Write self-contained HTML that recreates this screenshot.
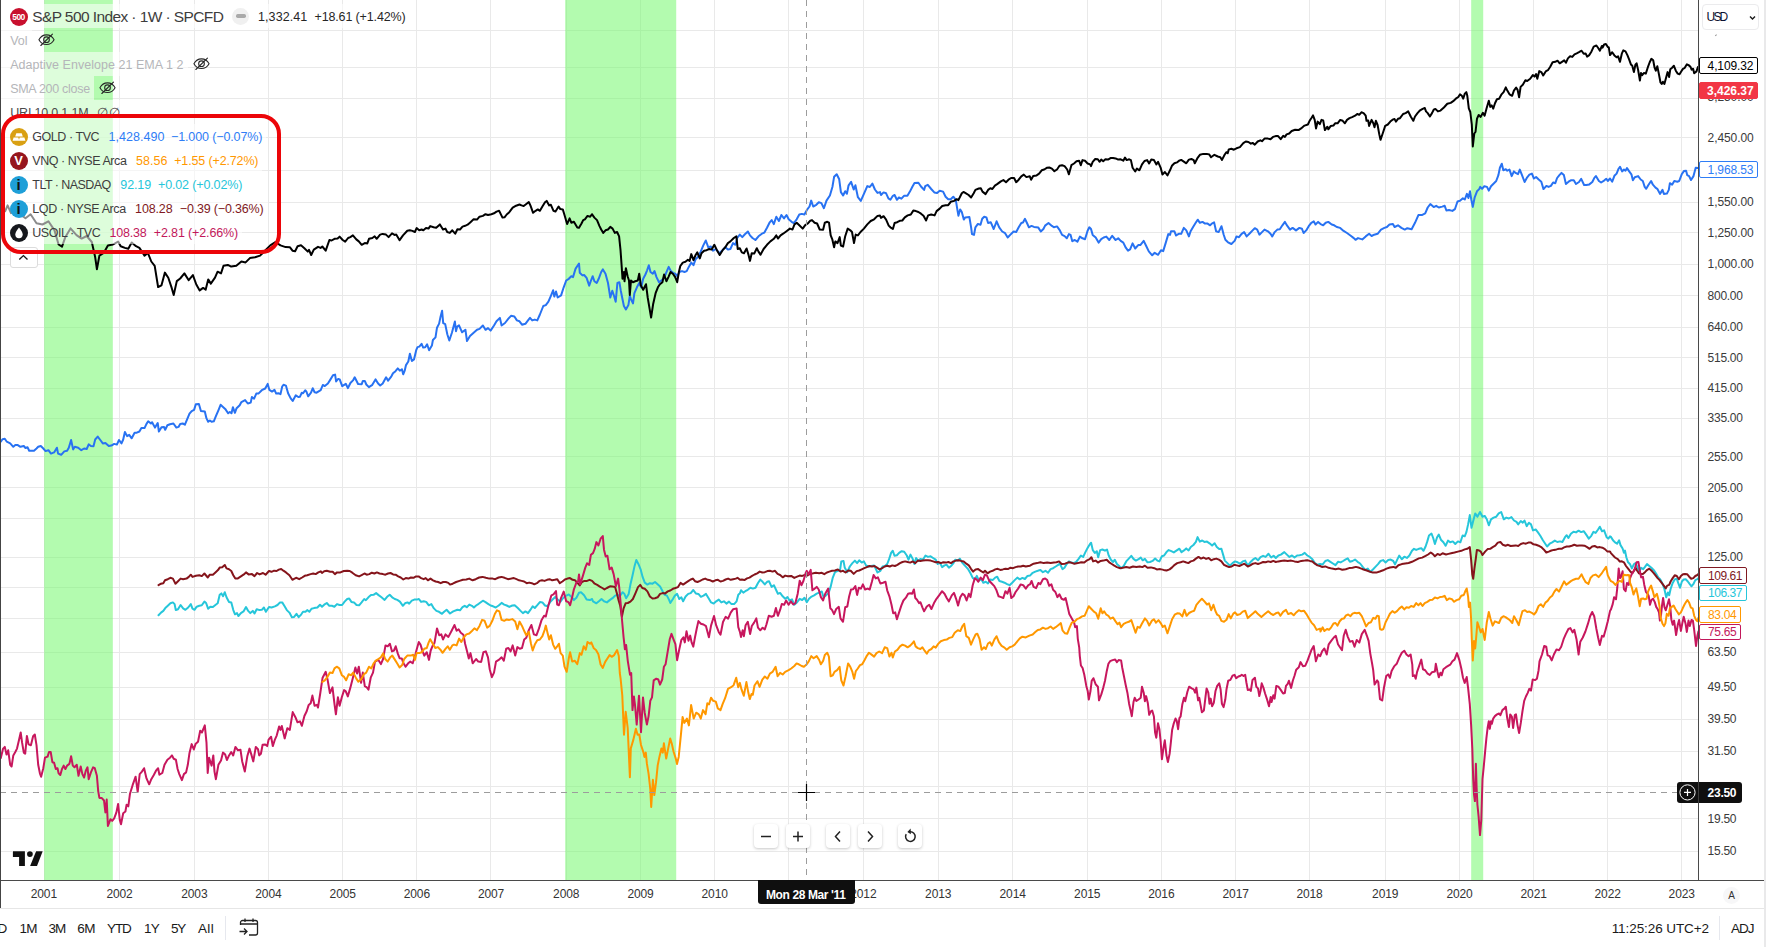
<!DOCTYPE html>
<html lang="en">
<head>
<meta charset="utf-8">
<title>S&amp;P 500 Index chart</title>
<style>
*{box-sizing:border-box;margin:0;padding:0}
html,body{width:1766px;height:947px;overflow:hidden;background:#fff}
body{position:relative;font-family:"Liberation Sans",Arial,sans-serif;color:#131722;font-size:13px}
.abs{position:absolute}
.t{position:absolute;white-space:pre;line-height:16px;height:16px}
.chart{position:absolute;left:0;top:0}
.lborder{position:absolute;left:0;top:0;width:1px;height:908px;background:#444}
.paxis{position:absolute;left:1698px;top:0;width:66px;height:908px;background:#fff;border-left:1px solid #4a4a4a}
.taxis{position:absolute;left:0;top:880px;width:1764px;height:28px;border-top:1px solid #4a4a4a;background:#fff}
.sep{position:absolute;left:0;top:908px;width:1764px;height:1px;background:#e6e6e6}
.redge{position:absolute;left:1764.200px;top:0;width:2px;height:947px;background:#e9e9ea}
.pl{position:absolute;left:1708px;height:16px;line-height:16px;font-size:12px;color:#3a3a3a;letter-spacing:-0.1px;white-space:nowrap}
.yl{position:absolute;top:886px;width:40px;text-align:center;font-size:12px;line-height:16px;color:#3a3a3a;white-space:nowrap}
.tag{position:absolute;left:1699px;height:16.500px;border:1px solid;border-radius:2px;background:#fff}
.row{position:absolute;left:0;height:24px;line-height:24px;white-space:nowrap;font-size:12.5px}
.row span{position:absolute;top:0}
.g{color:#b9bcc4}
.ico{position:absolute;width:18px;height:18px;border-radius:50%;left:9.5px}
.btn{position:absolute;top:824px;width:24px;height:24px;border-radius:4px;background:#fff;box-shadow:0 1px 3px rgba(0,0,0,.22)}
.btn svg{position:absolute;left:0;top:0}
.tb{position:absolute;top:919px;height:18px;line-height:18px;font-size:13.5px;color:#131722;white-space:nowrap}
</style>
</head>
<body>
<svg class="chart" width="1698" height="880" viewBox="0 0 1698 880">
<rect x="44" y="0" width="1" height="880" fill="#e9e9e9"/>
<rect x="119" y="0" width="1" height="880" fill="#e9e9e9"/>
<rect x="194" y="0" width="1" height="880" fill="#e9e9e9"/>
<rect x="268" y="0" width="1" height="880" fill="#e9e9e9"/>
<rect x="342" y="0" width="1" height="880" fill="#e9e9e9"/>
<rect x="416" y="0" width="1" height="880" fill="#e9e9e9"/>
<rect x="490" y="0" width="1" height="880" fill="#e9e9e9"/>
<rect x="566" y="0" width="1" height="880" fill="#e9e9e9"/>
<rect x="640" y="0" width="1" height="880" fill="#e9e9e9"/>
<rect x="714" y="0" width="1" height="880" fill="#e9e9e9"/>
<rect x="788" y="0" width="1" height="880" fill="#e9e9e9"/>
<rect x="863" y="0" width="1" height="880" fill="#e9e9e9"/>
<rect x="938" y="0" width="1" height="880" fill="#e9e9e9"/>
<rect x="1012" y="0" width="1" height="880" fill="#e9e9e9"/>
<rect x="1087" y="0" width="1" height="880" fill="#e9e9e9"/>
<rect x="1161" y="0" width="1" height="880" fill="#e9e9e9"/>
<rect x="1235" y="0" width="1" height="880" fill="#e9e9e9"/>
<rect x="1309" y="0" width="1" height="880" fill="#e9e9e9"/>
<rect x="1385" y="0" width="1" height="880" fill="#e9e9e9"/>
<rect x="1459" y="0" width="1" height="880" fill="#e9e9e9"/>
<rect x="1533" y="0" width="1" height="880" fill="#e9e9e9"/>
<rect x="1607" y="0" width="1" height="880" fill="#e9e9e9"/>
<rect x="1681" y="0" width="1" height="880" fill="#e9e9e9"/>
<rect x="0" y="30" width="1698" height="1" fill="#e9e9e9"/>
<rect x="0" y="67" width="1698" height="1" fill="#e9e9e9"/>
<rect x="0" y="98" width="1698" height="1" fill="#e9e9e9"/>
<rect x="0" y="137" width="1698" height="1" fill="#e9e9e9"/>
<rect x="0" y="170" width="1698" height="1" fill="#e9e9e9"/>
<rect x="0" y="202" width="1698" height="1" fill="#e9e9e9"/>
<rect x="0" y="232" width="1698" height="1" fill="#e9e9e9"/>
<rect x="0" y="264" width="1698" height="1" fill="#e9e9e9"/>
<rect x="0" y="295" width="1698" height="1" fill="#e9e9e9"/>
<rect x="0" y="327" width="1698" height="1" fill="#e9e9e9"/>
<rect x="0" y="357" width="1698" height="1" fill="#e9e9e9"/>
<rect x="0" y="388" width="1698" height="1" fill="#e9e9e9"/>
<rect x="0" y="418" width="1698" height="1" fill="#e9e9e9"/>
<rect x="0" y="456" width="1698" height="1" fill="#e9e9e9"/>
<rect x="0" y="487" width="1698" height="1" fill="#e9e9e9"/>
<rect x="0" y="518" width="1698" height="1" fill="#e9e9e9"/>
<rect x="0" y="557" width="1698" height="1" fill="#e9e9e9"/>
<rect x="0" y="587" width="1698" height="1" fill="#e9e9e9"/>
<rect x="0" y="618" width="1698" height="1" fill="#e9e9e9"/>
<rect x="0" y="652" width="1698" height="1" fill="#e9e9e9"/>
<rect x="0" y="687" width="1698" height="1" fill="#e9e9e9"/>
<rect x="0" y="719" width="1698" height="1" fill="#e9e9e9"/>
<rect x="0" y="751" width="1698" height="1" fill="#e9e9e9"/>
<rect x="0" y="786" width="1698" height="1" fill="#e9e9e9"/>
<rect x="0" y="818" width="1698" height="1" fill="#e9e9e9"/>
<rect x="0" y="851" width="1698" height="1" fill="#e9e9e9"/>
<rect x="44.2" y="0" width="68.6" height="880" fill="#78f870" fill-opacity="0.56"/>
<rect x="565.2" y="0" width="111.0" height="880" fill="#78f870" fill-opacity="0.56"/>
<rect x="1471.2" y="0" width="12.0" height="880" fill="#78f870" fill-opacity="0.56"/>
<polyline points="0.8,441.7 2.5,439.2 4.8,438.8 6.8,441.7 10.2,443.4 13.3,446.8 15.3,445.1 17.8,445.1 20.4,446.8 23.8,446.0 25.5,448.0 27.5,447.3 29.2,450.7 34.0,450.7 36.5,448.5 38.2,446.8 40.8,446.0 43.3,448.5 45.6,451.1 48.4,450.2 51.0,453.6 54.1,452.4 56.9,447.7 58.1,453.6 61.2,454.8 64.3,451.4 67.1,450.7 68.8,447.7 71.1,440.0 73.1,449.4 74.8,446.8 78.2,447.7 81.3,450.2 84.1,448.5 86.7,449.0 88.7,444.3 90.9,446.0 93.5,446.3 95.2,439.5 97.7,436.6 100.3,440.0 102.8,443.4 105.4,442.9 108.8,446.0 111.3,445.6 114.2,443.9 116.9,444.6 119.0,440.0 121.5,443.4 123.2,439.5 124.9,432.0 127.1,436.1 129.2,434.9 131.7,438.3 134.6,432.7 136.8,432.7 139.4,431.5 141.4,428.1 144.5,428.1 146.5,423.9 148.2,421.3 150.9,423.5 152.1,422.2 155.0,427.6 157.7,423.0 158.9,431.5 161.5,427.3 164.0,426.9 165.2,429.8 167.4,425.2 170.0,424.2 173.4,423.5 176.4,427.6 178.5,426.9 180.2,423.9 182.7,423.5 184.9,424.7 187.0,419.6 189.5,413.7 191.7,411.1 194.1,409.9 195.8,404.3 198.9,404.0 200.9,411.1 204.8,411.6 206.5,418.4 208.2,421.8 209.9,420.5 211.6,421.8 213.8,421.3 215.9,416.2 218.4,410.3 220.6,404.8 223.0,406.9 225.2,408.9 228.1,413.3 229.8,412.0 231.5,413.3 232.9,407.2 234.9,412.8 236.6,408.2 239.7,405.2 241.4,402.1 245.1,400.1 247.8,403.5 250.7,402.6 251.9,397.0 254.1,398.7 256.3,393.6 258.4,393.6 261.8,390.2 265.2,388.5 267.7,383.9 269.4,389.9 272.0,391.6 274.5,389.9 276.2,393.6 278.8,393.3 280.5,394.1 282.2,386.5 283.5,384.8 285.9,385.6 288.1,393.3 290.7,398.4 292.7,400.9 295.8,395.3 298.3,397.0 300.0,396.7 301.8,392.7 303.1,393.2 305.2,390.2 306.4,391.7 308.2,396.3 311.0,392.7 312.7,388.3 314.6,392.2 316.6,392.7 320.7,390.2 322.8,385.0 324.8,386.1 327.9,383.5 330.5,379.4 333.0,375.3 335.1,374.6 336.1,381.4 338.2,378.9 339.7,379.4 342.2,386.1 345.8,383.8 347.9,388.1 350.4,383.0 353.0,380.4 354.7,377.3 358.1,384.0 361.7,384.2 362.9,380.9 364.8,380.9 366.3,384.5 368.9,387.1 372.0,385.2 375.5,379.4 378.1,383.5 380.2,385.5 382.7,383.5 386.1,377.3 388.1,380.7 391.4,376.3 393.0,373.3 395.5,371.2 397.8,368.4 399.8,370.7 401.9,369.2 403.2,374.3 404.7,370.7 406.0,365.1 408.3,361.5 409.9,353.8 411.9,361.0 414.0,359.4 416.2,350.2 417.5,347.1 419.3,346.6 421.6,343.8 423.2,347.6 425.2,347.3 427.1,344.3 429.1,350.2 431.9,345.6 432.9,340.0 435.5,337.4 437.0,327.7 439.1,323.6 440.6,316.4 442.1,310.8 443.2,323.1 445.2,324.1 447.3,334.3 449.3,340.5 451.9,332.8 454.9,321.5 456.0,331.2 457.2,326.6 459.0,325.4 462.1,332.3 465.4,329.7 467.0,341.0 470.0,335.9 477.0,329.8 479.5,328.9 482.9,325.5 485.5,329.8 488.0,328.1 490.6,330.6 494.0,325.5 496.5,321.3 499.9,317.9 501.6,325.5 505.0,323.0 508.4,318.7 511.0,315.8 514.4,316.5 516.9,320.4 519.5,321.3 522.0,324.7 525.4,323.8 528.0,320.4 530.0,317.9 532.2,320.4 534.8,319.6 537.3,320.4 539.9,314.5 543.3,306.0 545.8,305.1 548.4,301.7 550.9,295.8 553.1,290.3 554.3,296.6 556.0,291.5 557.7,297.5 561.1,295.4 563.7,287.3 566.2,280.5 568.8,278.8 571.3,276.2 573.0,277.1 575.6,268.6 579.0,263.5 579.8,272.8 582.4,275.4 584.1,275.0 586.6,277.9 589.2,285.6 591.0,280.5 592.7,276.2 594.4,281.3 596.7,283.0 598.7,278.8 601.2,272.0 602.9,269.4 605.5,273.7 608.0,283.0 610.3,297.5 612.3,290.7 614.0,295.8 615.7,301.7 617.4,283.0 619.4,282.2 620.8,290.7 622.5,299.2 623.9,306.0 625.9,309.4 628.4,305.1 629.8,295.8 631.0,299.2 633.0,303.4 634.4,293.2 636.9,287.3 639.2,283.0 641.2,287.3 643.2,278.8 645.4,274.5 647.1,270.3 648.8,265.2 650.5,272.0 652.8,273.7 654.5,271.1 656.5,277.1 659.0,282.2 661.3,280.5 663.3,278.8 665.8,273.7 668.7,266.9 670.9,271.1 673.1,272.8 675.2,273.7 677.2,276.2 679.4,272.0 682.0,271.1 684.5,272.0 686.7,271.1 688.8,266.9 691.3,262.6 693.5,265.2 695.6,259.2 698.1,256.7 700.7,251.6 703.2,245.6 705.8,240.5 708.3,247.3 710.9,246.5 713.1,250.7 716.0,249.0 719.4,253.3 722.8,249.9 725.3,247.3 727.9,249.6 730.4,249.0 733.0,243.1 735.5,244.8 737.2,238.0 739.8,234.6 742.3,237.1 744.9,234.3 747.9,231.5 750.0,235.4 752.5,238.0 755.4,240.0 758.5,236.3 761.9,233.7 764.4,232.6 767.0,227.8 769.5,222.7 771.7,220.1 773.8,224.1 776.3,216.7 778.9,221.0 781.4,215.0 784.0,218.4 786.5,215.0 788.7,219.3 791.6,221.8 793.8,223.0 796.7,219.3 799.3,214.5 801.8,213.9 804.4,214.5 806.9,209.9 809.5,206.5 811.2,200.6 813.2,206.5 816.3,204.8 818.8,202.3 821.4,203.1 823.9,208.2 826.5,200.6 829.9,195.5 832.4,187.0 834.1,176.8 836.7,174.2 839.2,179.3 840.9,192.1 843.1,195.5 845.2,191.2 846.9,193.8 848.6,185.3 851.1,181.9 853.7,189.5 855.4,185.3 857.9,197.2 860.8,200.9 863.9,193.8 867.3,186.1 869.8,187.0 872.4,183.6 874.9,189.5 877.5,192.9 880.0,192.1 881.0,195.0 883.6,192.4 886.1,193.3 888.4,198.4 890.4,199.8 892.9,195.8 894.6,195.0 896.9,199.8 898.9,197.5 901.4,198.7 904.0,195.8 907.4,195.8 909.9,191.6 912.5,186.5 914.5,183.1 918.4,182.8 921.0,186.5 924.1,189.9 925.2,186.2 927.8,184.8 931.2,189.0 934.3,192.4 937.1,193.0 939.7,190.7 943.1,191.6 945.6,196.7 948.2,199.2 950.7,199.2 953.3,196.7 955.8,199.8 957.5,210.3 958.4,215.7 960.1,209.4 961.8,212.0 963.8,219.6 965.2,217.4 969.4,217.1 971.1,227.3 972.0,234.1 974.0,234.9 975.4,227.3 977.9,223.9 980.5,224.7 982.2,218.8 984.2,216.7 986.4,217.4 988.1,223.0 990.7,222.2 993.7,229.0 996.6,221.3 999.2,227.3 1002.2,231.5 1005.1,233.2 1007.7,237.5 1010.2,234.9 1013.6,231.5 1016.2,232.0 1018.7,227.3 1021.3,223.0 1023.0,222.5 1025.0,218.8 1027.2,223.5 1028.9,227.3 1031.5,225.9 1034.0,226.9 1038.3,227.6 1040.8,231.5 1043.4,229.0 1045.1,225.6 1048.5,223.0 1051.9,225.9 1053.9,227.3 1057.0,226.4 1059.5,229.8 1062.1,234.9 1064.6,236.1 1066.8,238.3 1068.9,234.1 1070.6,234.9 1072.3,241.2 1074.8,240.0 1077.4,241.7 1079.9,236.6 1082.5,238.3 1085.0,239.2 1087.6,230.7 1089.3,227.3 1091.0,229.0 1092.7,234.9 1095.7,237.5 1098.6,242.6 1101.2,239.2 1103.7,237.5 1106.3,236.6 1109.3,240.0 1112.2,235.8 1115.6,240.0 1118.2,238.3 1120.7,240.9 1123.3,242.6 1125.8,247.7 1128.0,250.7 1130.1,249.4 1132.6,243.4 1135.2,248.5 1138.2,245.1 1140.3,245.1 1143.7,240.9 1146.2,246.0 1148.8,251.4 1152.2,255.3 1154.7,252.8 1158.1,254.8 1161.0,250.2 1163.2,251.1 1165.8,242.6 1168.3,234.1 1170.0,234.9 1171.0,231.3 1174.4,231.3 1176.1,235.5 1178.7,233.8 1181.2,233.8 1183.8,227.9 1186.3,230.4 1188.9,236.4 1190.6,231.3 1193.1,227.0 1195.7,222.8 1197.7,219.7 1199.9,222.8 1202.5,221.9 1205.0,223.6 1207.6,223.6 1210.1,225.3 1211.8,223.6 1214.1,222.4 1216.1,231.3 1218.6,232.1 1221.5,226.2 1223.7,234.7 1225.4,239.8 1228.0,242.3 1231.4,244.0 1234.8,240.6 1236.5,236.4 1239.0,237.2 1241.6,233.8 1244.1,232.1 1246.7,236.4 1250.1,233.0 1252.6,230.4 1254.8,228.2 1257.2,229.6 1259.4,234.7 1262.0,232.1 1264.5,229.6 1267.9,231.3 1270.5,233.8 1272.2,236.4 1274.7,232.1 1277.3,229.6 1279.8,229.2 1282.4,225.3 1284.9,221.9 1287.5,226.2 1290.0,229.6 1292.6,227.9 1296.0,230.4 1299.4,227.9 1301.9,228.7 1303.6,233.0 1306.2,230.4 1308.7,226.2 1311.3,222.8 1313.8,221.4 1315.5,224.5 1318.1,221.9 1320.6,224.1 1323.2,225.3 1325.7,222.8 1328.3,221.9 1331.7,224.5 1334.2,225.3 1336.8,227.0 1340.2,227.9 1343.6,230.9 1347.0,233.0 1350.4,235.5 1353.8,238.1 1355.5,239.8 1358.0,238.1 1362.3,239.4 1365.7,236.4 1369.1,233.8 1371.6,236.0 1374.2,234.7 1377.6,233.8 1381.0,229.6 1384.4,227.9 1386.9,227.0 1389.5,224.5 1392.9,224.1 1394.6,227.0 1398.0,225.3 1401.4,227.9 1404.8,229.6 1407.3,228.2 1411.6,229.2 1415.0,222.8 1418.4,215.1 1421.8,215.1 1425.2,213.4 1427.7,207.5 1430.3,204.1 1433.7,207.1 1436.2,205.8 1438.8,207.5 1442.2,206.6 1444.7,205.8 1446.4,210.5 1449.0,210.0 1452.4,210.9 1454.9,209.2 1457.5,201.5 1460.0,200.7 1462.9,198.3 1464.8,199.5 1466.9,193.9 1468.4,198.0 1470.0,191.3 1471.3,199.5 1472.8,206.9 1474.7,197.3 1477.0,191.3 1479.2,189.1 1480.2,186.9 1482.1,188.8 1484.3,186.2 1487.0,186.9 1488.8,190.6 1491.0,186.2 1494.0,183.2 1496.2,181.0 1498.4,175.1 1499.9,167.7 1501.8,163.7 1503.3,170.2 1505.8,169.2 1507.3,170.7 1509.5,169.6 1511.7,176.1 1513.9,171.4 1516.1,173.2 1518.0,174.1 1519.8,169.6 1522.0,175.1 1524.6,182.0 1527.2,177.3 1529.4,174.6 1531.9,173.6 1533.9,178.5 1536.1,177.0 1538.7,179.5 1541.3,181.7 1543.5,189.1 1546.4,185.9 1548.6,186.9 1550.9,185.9 1553.1,182.5 1555.3,183.2 1557.1,178.0 1559.4,175.1 1561.5,172.9 1563.9,175.1 1565.9,184.0 1568.6,181.7 1570.8,180.3 1573.8,180.3 1576.0,184.0 1579.0,182.0 1581.2,178.8 1584.1,185.0 1586.3,185.0 1589.3,184.4 1592.3,182.0 1594.5,177.6 1595.9,176.1 1598.9,181.0 1601.1,182.5 1604.1,180.6 1606.3,178.8 1607.8,181.0 1610.0,178.5 1612.2,181.7 1614.4,175.8 1616.6,173.6 1618.6,168.7 1620.0,166.7 1622.1,171.4 1624.0,169.6 1625.5,170.7 1627.0,168.1 1629.2,171.4 1631.4,174.3 1632.9,180.3 1634.8,177.3 1638.1,176.1 1640.7,179.5 1642.8,181.0 1644.7,186.9 1646.2,188.8 1648.4,185.0 1651.1,181.0 1652.9,184.7 1655.5,187.6 1657.3,188.8 1660.0,193.9 1662.5,189.9 1663.9,193.9 1666.9,193.6 1668.8,189.9 1669.9,183.2 1672.1,184.7 1674.3,181.0 1677.3,181.7 1679.2,181.0 1681.7,174.3 1683.9,171.1 1686.1,170.7 1687.2,175.1 1689.1,176.1 1691.0,180.0 1693.5,176.1 1695.7,167.7 1697.9,168.1" fill="none" stroke="#2872f2" stroke-width="2" stroke-linejoin="round" stroke-linecap="round"/>

<polyline points="158.5,615.2 161.0,612.6 163.3,610.9 165.3,608.1 167.8,605.8 170.4,603.3 172.9,602.4 174.6,604.1 175.8,610.1 178.0,609.2 180.6,605.0 183.1,608.4 185.4,609.8 188.2,607.5 190.8,604.1 192.5,608.7 194.5,609.8 196.7,606.7 199.3,605.8 201.8,605.3 204.4,601.6 206.1,603.0 208.1,608.7 210.3,606.7 212.9,607.0 215.4,605.0 217.7,603.3 219.7,594.8 221.4,593.4 223.1,596.2 224.8,592.2 226.5,597.3 229.0,601.9 231.3,602.4 233.3,610.1 235.0,614.3 237.0,613.1 238.4,616.0 240.9,613.1 243.5,611.4 246.0,607.0 248.2,610.9 250.3,613.1 252.8,610.9 254.5,613.5 256.7,609.2 259.6,610.1 261.8,609.8 263.9,607.5 265.9,611.8 269.0,607.0 271.5,607.5 274.9,606.4 277.5,605.0 280.0,602.4 282.2,602.4 284.3,605.8 286.8,610.1 289.4,612.6 291.9,617.2 294.1,616.9 296.5,613.8 298.7,617.2 301.3,614.3 303.0,611.8 305.5,611.8 307.2,610.1 309.4,611.8 311.5,608.7 314.0,608.1 317.4,607.5 320.0,604.7 322.0,606.7 324.2,604.7 326.8,603.0 329.3,605.8 331.9,605.8 334.4,606.7 337.0,604.1 339.5,605.0 342.1,605.0 344.6,601.6 347.2,599.0 349.2,598.5 351.4,601.9 354.0,602.4 356.5,605.0 359.1,605.3 361.6,602.4 364.2,599.0 365.9,600.2 368.4,597.3 371.0,595.1 373.5,594.8 376.1,593.1 378.6,595.1 381.5,597.3 384.6,599.9 387.1,596.8 389.7,594.8 392.2,597.3 394.8,599.0 397.3,599.9 399.9,601.6 402.9,605.8 405.0,603.3 407.5,602.4 409.2,603.6 411.8,600.7 414.3,599.6 416.9,599.6 418.9,599.0 421.1,601.9 423.7,601.3 426.2,601.9 428.8,605.3 431.3,604.1 433.9,608.4 436.4,610.9 439.0,611.8 442.0,613.8 444.1,611.8 446.6,609.8 450.0,613.5 453.2,611.4 457.4,609.7 460.0,610.3 462.5,607.2 464.7,605.8 466.8,607.2 469.3,604.6 471.9,605.8 473.9,607.5 476.1,605.5 478.7,603.8 482.9,600.7 485.5,602.1 488.0,603.8 490.6,605.5 493.1,606.3 495.7,607.5 498.7,605.5 501.6,602.9 504.2,604.6 506.7,605.5 509.3,606.9 512.3,605.5 514.7,605.2 517.8,608.0 520.3,610.6 522.9,613.1 525.4,611.4 528.0,613.1 530.5,609.7 532.7,606.3 534.8,608.0 537.3,605.2 539.9,602.1 542.4,602.4 545.0,605.5 547.5,606.3 550.1,602.1 552.6,599.5 555.2,597.0 557.7,599.5 560.3,601.8 562.8,598.4 565.4,596.1 568.8,594.4 571.3,596.7 573.9,600.1 576.4,597.8 579.0,592.7 581.0,592.2 584.1,595.3 586.6,599.5 590.0,600.1 592.1,599.0 593.0,601.3 596.4,603.3 598.9,601.3 601.5,599.0 604.0,601.3 606.9,602.4 610.0,599.9 612.5,598.2 615.1,595.6 617.6,594.8 619.8,596.2 622.7,592.2 624.4,593.9 626.1,598.2 628.7,593.9 630.4,584.6 632.4,576.1 634.6,565.9 636.3,559.9 638.5,564.2 640.6,569.3 642.6,576.9 644.8,582.6 647.4,584.6 649.9,583.2 652.5,583.7 655.0,582.0 657.6,584.3 660.1,586.6 662.7,591.4 664.7,594.8 666.9,595.6 669.1,599.9 670.3,603.0 672.9,599.0 674.9,595.6 677.1,593.9 679.3,599.0 681.4,597.3 683.1,601.3 685.6,596.5 688.2,593.9 690.7,593.1 693.3,590.0 695.8,593.4 698.4,593.9 700.9,596.8 703.5,595.6 706.0,593.9 708.6,598.2 711.1,602.4 713.7,603.6 716.2,601.3 718.8,599.6 721.3,602.4 723.9,601.3 726.4,603.6 729.0,601.6 731.5,604.1 734.1,604.1 736.6,601.3 738.3,594.8 740.0,593.1 741.0,590.3 743.3,592.6 745.3,591.2 747.8,589.8 750.4,587.8 752.9,588.6 755.5,587.8 758.0,583.0 760.3,579.6 762.6,581.8 764.8,584.4 767.1,581.8 769.1,581.3 771.6,586.9 773.9,585.2 775.9,589.5 777.9,593.7 780.1,592.9 782.7,596.3 785.2,598.8 787.5,597.1 789.5,600.5 792.0,599.4 794.3,604.8 797.1,602.2 799.7,598.8 802.2,600.0 804.5,597.7 806.8,602.2 809.0,598.8 811.6,596.6 814.1,595.4 816.7,593.7 819.2,592.6 821.8,591.5 823.5,597.1 826.0,595.4 828.6,592.9 830.6,586.9 832.8,577.6 835.0,572.2 837.9,570.8 840.1,569.9 841.3,561.4 843.5,560.9 844.7,567.4 847.3,572.2 849.8,566.5 852.4,563.1 854.9,560.6 857.1,563.1 859.2,560.3 861.7,562.6 863.9,561.4 866.0,565.4 868.5,566.5 871.1,566.0 874.1,565.4 875.8,568.8 877.5,572.5 880.4,570.8 882.6,566.5 885.0,566.0 887.2,564.0 888.9,559.7 891.1,552.9 892.8,550.7 894.5,555.8 896.9,555.2 899.1,552.9 901.7,551.2 904.2,551.8 906.8,555.5 908.5,559.7 910.5,554.6 912.7,558.9 914.4,564.0 916.1,558.0 918.3,560.9 920.4,558.9 922.9,559.7 925.5,555.5 928.0,556.9 930.6,556.3 933.1,558.0 935.7,559.7 937.7,564.0 939.9,562.6 942.1,567.1 944.5,565.4 946.7,564.8 948.9,567.7 951.0,566.0 953.5,563.1 955.2,559.7 957.8,560.6 959.8,558.6 962.0,562.3 964.2,564.8 966.3,567.1 968.3,569.4 970.5,573.3 972.7,577.9 974.8,579.3 976.8,575.9 979.0,580.7 981.2,579.0 983.3,582.7 985.8,581.8 988.0,583.5 990.1,579.6 992.6,580.1 995.2,577.6 997.2,576.7 999.4,581.0 1002.0,581.8 1004.5,582.7 1007.1,584.1 1009.6,585.2 1012.2,582.7 1014.7,580.1 1017.3,577.6 1019.8,579.3 1022.4,577.9 1024.9,579.0 1027.5,575.9 1030.0,575.6 1032.7,572.8 1035.3,571.6 1037.8,570.8 1040.4,569.9 1042.9,572.2 1045.5,570.8 1048.0,572.8 1050.6,569.1 1053.1,568.2 1055.7,566.5 1058.2,564.8 1059.9,563.7 1062.5,569.1 1064.5,567.7 1066.7,564.0 1069.0,561.4 1071.0,562.6 1073.5,563.1 1076.1,562.0 1078.6,558.9 1080.9,555.5 1083.2,556.9 1085.4,552.1 1087.7,547.8 1089.7,544.4 1091.1,542.7 1092.8,550.1 1094.8,552.9 1096.8,551.2 1098.2,557.2 1100.2,550.1 1102.4,549.5 1105.0,550.7 1107.0,549.5 1108.7,555.5 1110.9,559.7 1113.1,562.0 1114.8,559.7 1116.9,564.0 1118.9,565.7 1121.1,568.2 1123.7,566.0 1126.2,561.4 1128.8,558.6 1131.3,555.8 1133.5,558.9 1135.9,560.6 1138.6,559.2 1140.7,557.5 1142.7,560.3 1144.9,558.9 1147.5,562.3 1150.0,562.0 1152.6,560.9 1155.1,558.6 1157.3,560.6 1159.4,561.4 1161.9,556.3 1164.1,555.5 1166.5,552.1 1168.7,550.1 1171.3,551.2 1173.8,552.4 1176.4,550.7 1179.4,548.7 1181.5,552.1 1184.0,550.4 1186.2,548.4 1188.6,550.4 1190.8,547.0 1193.4,545.0 1195.9,541.9 1197.6,537.1 1199.8,541.6 1202.2,540.5 1204.4,541.9 1207.0,541.6 1209.5,543.3 1212.1,545.6 1214.6,543.3 1216.8,547.0 1219.2,549.0 1221.4,548.7 1223.1,554.6 1224.8,560.6 1227.4,563.1 1229.9,565.7 1232.5,563.1 1235.0,561.4 1237.6,562.3 1240.1,563.7 1242.7,561.4 1245.2,560.6 1247.8,565.7 1250.3,562.3 1252.9,559.7 1255.4,558.0 1258.0,560.3 1260.5,557.2 1263.1,555.8 1265.6,556.9 1268.5,553.8 1271.2,557.5 1273.6,555.8 1275.8,558.0 1278.4,555.5 1280.9,554.6 1284.3,552.1 1286.9,554.6 1289.4,556.9 1292.0,555.5 1294.5,557.5 1297.1,555.5 1299.6,555.2 1302.2,554.6 1304.7,552.9 1307.3,555.5 1309.8,556.9 1312.4,559.2 1314.9,563.1 1317.5,564.8 1320.0,564.0 1322.7,564.4 1325.3,561.0 1327.8,560.1 1330.4,561.8 1332.9,563.5 1335.5,565.2 1338.0,561.8 1340.6,562.4 1343.1,561.0 1345.7,559.3 1347.7,558.4 1349.9,561.8 1352.5,561.0 1355.0,559.6 1357.6,561.8 1360.1,563.5 1362.7,566.9 1365.2,569.8 1367.8,568.6 1370.3,572.0 1372.9,569.5 1375.4,566.9 1378.0,564.1 1380.5,561.0 1383.1,560.1 1385.6,562.4 1388.2,560.1 1390.7,559.6 1393.3,561.0 1395.0,564.4 1397.0,560.1 1399.2,555.6 1401.8,559.3 1404.3,556.7 1406.9,557.9 1409.4,555.6 1412.0,550.8 1414.0,548.8 1416.2,549.9 1418.8,548.8 1421.3,548.2 1423.5,550.8 1425.6,546.5 1427.3,541.4 1429.0,535.5 1431.5,533.5 1433.2,538.0 1434.9,544.0 1437.1,537.2 1438.8,534.6 1440.9,539.7 1443.4,542.3 1445.6,545.7 1448.0,540.6 1450.2,542.3 1452.8,541.4 1455.3,544.0 1457.9,541.4 1460.4,542.3 1462.6,535.5 1464.7,536.3 1466.4,532.1 1468.1,524.4 1469.8,515.1 1471.5,527.8 1473.2,521.0 1475.2,513.4 1477.4,516.8 1480.0,512.0 1482.5,516.8 1484.7,515.9 1486.8,519.3 1488.8,525.3 1491.0,519.3 1493.6,517.6 1496.1,516.8 1498.7,513.4 1501.2,512.0 1503.8,519.3 1506.3,517.6 1508.9,518.5 1511.4,517.1 1514.0,520.5 1516.5,521.9 1518.2,524.4 1520.8,521.0 1522.8,522.7 1524.5,520.5 1526.7,526.1 1528.9,522.7 1531.0,524.4 1533.0,530.4 1535.7,529.5 1537.8,532.1 1540.3,535.8 1542.9,540.3 1545.4,544.0 1547.1,546.5 1549.7,543.7 1552.2,542.3 1554.8,540.6 1557.3,542.0 1559.9,541.4 1562.4,542.0 1565.0,537.2 1566.7,535.2 1568.4,538.0 1570.9,533.8 1573.5,531.8 1576.0,532.4 1578.6,530.7 1581.1,532.1 1583.7,531.2 1586.2,534.6 1588.8,538.6 1591.3,535.8 1593.5,531.8 1595.6,532.9 1598.1,529.5 1599.8,526.7 1602.0,531.2 1604.1,530.4 1606.6,537.2 1608.3,538.6 1610.0,536.3 1610.9,536.9 1613.0,540.3 1615.0,542.4 1617.1,543.7 1619.1,540.3 1620.5,545.1 1622.6,548.5 1623.9,552.7 1625.0,550.6 1626.4,557.5 1628.1,562.3 1630.1,564.3 1631.9,568.4 1633.8,564.3 1635.6,563.0 1637.4,567.1 1639.3,571.2 1641.1,567.8 1643.2,569.1 1644.8,567.1 1647.0,564.1 1649.3,566.0 1651.4,567.8 1654.1,570.5 1656.2,573.9 1658.3,577.4 1660.3,579.4 1662.4,583.5 1664.4,589.0 1666.2,597.3 1667.9,592.5 1669.2,595.2 1670.6,589.0 1672.7,582.9 1674.7,579.4 1676.8,578.7 1678.2,582.9 1680.0,587.7 1681.9,581.5 1683.7,579.4 1685.7,579.2 1687.8,581.5 1689.8,584.2 1691.5,586.3 1693.3,584.2 1695.3,580.1 1697.4,579.2 1698.4,578.1" fill="none" stroke="#26c6da" stroke-width="2" stroke-linejoin="round" stroke-linecap="round"/>

<polyline points="158.5,585.1 161.0,583.7 163.3,583.2 165.0,580.3 167.8,579.2 170.4,577.8 172.9,578.6 175.5,583.7 178.0,581.2 180.6,578.6 183.1,579.2 186.5,578.6 188.8,576.9 190.8,574.7 192.5,576.9 195.9,575.8 199.3,575.2 201.8,576.1 204.4,573.5 207.8,577.5 209.8,574.7 212.9,574.7 215.4,572.4 218.0,570.1 219.7,567.6 222.2,567.3 224.8,565.0 226.5,568.4 229.0,569.3 231.3,571.0 233.3,575.2 235.3,578.6 237.5,578.6 240.9,576.4 243.5,574.7 246.0,572.4 248.6,574.4 252.0,574.1 254.5,576.1 257.1,573.0 259.6,574.4 263.0,573.0 265.6,574.7 269.0,571.0 271.5,571.8 274.1,570.7 276.6,571.0 278.8,569.6 281.2,569.0 283.4,570.7 286.0,572.4 289.4,575.2 292.4,579.8 294.5,578.6 296.5,577.8 299.2,579.2 302.1,577.5 304.7,575.8 307.2,575.2 310.6,574.1 313.2,573.5 315.7,574.1 318.3,572.4 320.8,571.3 322.0,573.0 324.2,571.3 326.8,570.7 330.2,571.8 332.7,571.8 334.9,574.1 337.0,572.4 340.4,572.4 343.8,571.0 347.2,570.7 349.7,571.0 352.3,572.7 355.7,575.2 359.1,576.4 361.6,575.2 364.5,573.5 366.7,574.7 369.3,574.1 371.8,572.7 374.4,573.5 376.9,572.4 379.5,573.5 382.9,574.1 385.4,574.7 388.0,573.5 390.5,573.0 393.1,574.4 395.6,574.7 398.2,576.4 400.7,577.5 403.3,579.5 405.8,578.1 408.4,578.6 410.9,577.5 413.5,577.8 416.0,576.4 418.6,576.4 421.1,578.1 423.7,579.2 425.7,578.1 427.9,580.3 430.5,578.6 433.0,580.3 435.6,581.5 438.1,582.0 440.7,583.2 443.2,582.0 445.8,582.0 448.3,582.9 450.0,584.6 452.7,583.7 456.1,582.0 459.5,580.9 462.9,579.8 466.3,579.5 469.2,578.6 472.6,580.3 475.7,579.2 479.1,577.5 482.5,576.9 485.9,577.8 489.3,578.6 492.7,578.6 495.2,579.2 498.6,577.5 501.5,576.9 504.6,577.8 508.0,579.2 511.4,578.6 513.9,578.1 516.5,579.2 519.0,580.3 521.6,580.9 524.1,581.5 526.7,583.2 529.2,582.6 531.8,583.2 534.3,584.3 536.9,583.2 539.4,580.9 542.0,580.3 544.5,580.9 547.1,579.8 549.6,579.2 552.2,580.3 554.7,579.8 557.3,579.2 559.8,583.2 562.4,581.5 564.9,579.5 567.5,578.6 570.0,578.1 572.6,579.8 575.1,580.3 577.7,583.2 579.7,585.4 581.9,582.0 584.5,580.9 587.0,580.9 589.6,579.8 592.1,580.9 594.7,583.7 597.2,584.9 599.8,586.6 602.3,588.0 604.5,589.4 606.9,588.0 610.0,586.3 612.5,586.6 615.1,587.1 616.8,593.1 618.5,599.9 620.2,605.8 621.9,616.5 623.6,608.4 625.6,603.3 627.8,603.0 630.4,601.6 632.9,599.0 635.5,593.1 638.0,587.1 640.2,584.9 642.3,588.0 644.8,588.8 647.4,591.4 649.9,596.5 652.5,598.5 655.0,598.2 657.6,597.3 660.1,593.9 662.7,593.1 665.2,593.4 667.8,591.4 670.3,590.5 672.9,588.8 675.4,588.0 678.0,587.1 680.5,582.9 683.1,584.6 685.6,582.9 688.2,581.2 690.7,579.5 692.9,578.6 695.0,581.2 697.5,582.0 700.1,580.9 702.6,579.5 705.2,578.6 707.7,579.8 710.3,580.3 712.8,581.5 715.4,580.3 717.9,579.8 720.5,581.5 723.0,580.9 725.6,579.5 728.1,578.6 730.7,579.8 733.2,579.2 735.8,578.6 737.5,577.8 740.0,579.8 741.9,579.6 744.4,580.1 747.0,578.4 749.5,577.6 752.1,575.9 754.6,574.5 757.2,573.3 759.7,571.6 762.3,572.5 764.8,572.2 767.4,571.1 769.9,570.8 772.5,571.6 775.0,570.8 777.6,573.9 780.1,575.0 782.7,577.3 785.2,575.6 787.8,576.2 791.2,575.9 794.3,577.9 797.1,576.7 799.7,575.6 802.2,575.9 804.8,575.0 807.3,575.6 809.9,573.9 813.3,573.3 815.8,572.8 819.2,573.3 821.8,572.8 824.3,574.2 826.9,572.5 829.4,571.6 832.0,570.8 835.0,570.5 837.9,569.4 840.5,571.6 843.0,570.8 845.6,572.5 848.1,570.5 850.7,570.8 853.7,573.9 856.6,571.1 859.2,570.5 861.7,569.4 864.3,568.2 866.8,567.1 869.4,566.0 871.9,566.5 874.5,566.0 877.0,567.7 879.6,569.4 882.1,568.2 884.7,566.5 887.2,565.7 889.8,566.5 892.3,565.4 894.9,566.0 897.4,564.8 900.0,563.1 902.5,562.0 905.1,561.4 907.6,562.0 910.2,562.6 912.7,561.4 915.3,563.1 917.8,560.6 920.4,560.9 922.9,560.6 925.5,560.3 928.0,560.3 930.6,560.6 933.1,561.4 935.7,562.3 938.2,562.0 940.8,563.1 943.3,562.3 945.9,562.6 948.4,562.0 951.0,563.1 953.5,561.4 956.1,560.6 958.6,560.3 961.2,560.9 963.7,561.4 966.3,563.7 968.8,565.4 971.0,568.8 973.1,571.6 975.6,569.4 978.2,569.1 980.7,570.8 983.3,572.5 985.0,570.8 987.5,573.3 990.1,571.6 992.6,570.8 995.2,569.4 997.7,568.8 1000.3,569.9 1002.8,569.4 1005.4,568.8 1007.9,569.1 1010.5,567.7 1013.0,568.2 1015.6,567.1 1018.1,566.5 1020.7,566.5 1023.2,565.7 1025.8,566.5 1028.3,566.0 1030.0,565.7 1033.6,563.7 1037.0,563.1 1040.4,562.3 1043.8,563.1 1047.2,562.6 1050.6,563.1 1054.0,562.6 1056.5,562.3 1059.1,561.4 1061.6,564.0 1065.0,563.7 1068.4,562.3 1071.0,562.6 1074.4,563.7 1077.8,563.1 1081.2,562.3 1084.3,562.6 1087.1,560.3 1089.7,559.2 1091.4,557.2 1093.1,561.4 1095.6,560.6 1097.9,562.6 1100.7,560.9 1103.3,560.6 1106.7,559.7 1109.2,562.3 1111.8,564.0 1114.3,565.7 1116.9,567.1 1120.3,568.2 1122.8,567.7 1126.2,567.1 1129.6,567.7 1133.0,566.5 1136.4,567.1 1139.8,566.5 1142.4,567.1 1144.9,565.7 1147.5,567.7 1150.9,567.4 1154.3,568.2 1156.8,569.4 1160.2,569.1 1163.6,569.9 1166.5,570.5 1169.6,569.4 1172.1,567.4 1174.7,564.8 1177.2,563.1 1180.6,562.3 1183.2,561.4 1185.7,562.3 1188.3,563.1 1190.8,561.4 1193.4,560.6 1195.9,558.6 1198.5,556.9 1201.0,558.6 1203.6,557.5 1206.1,558.9 1208.7,558.0 1211.2,560.3 1213.8,559.2 1216.3,558.6 1218.9,559.7 1221.4,561.4 1224.0,564.8 1226.5,566.0 1229.1,567.1 1231.6,566.5 1234.2,564.8 1236.7,565.4 1239.3,566.0 1241.8,564.8 1244.4,563.7 1247.8,566.5 1250.3,565.4 1252.9,563.7 1255.4,563.1 1258.0,564.0 1260.5,563.1 1263.1,562.0 1265.6,562.3 1268.2,561.4 1270.7,562.0 1273.3,560.9 1275.8,562.0 1278.4,561.4 1280.9,560.9 1284.3,560.6 1287.7,560.9 1291.1,560.6 1294.5,561.4 1297.9,562.0 1301.3,560.9 1304.7,560.6 1307.3,560.3 1309.8,560.9 1312.4,561.4 1314.9,563.7 1317.5,565.4 1320.0,566.0 1321.9,566.9 1325.3,566.4 1328.7,567.8 1332.1,568.6 1335.5,569.2 1338.9,568.6 1342.3,569.8 1345.7,569.2 1349.1,568.1 1352.5,567.8 1355.9,566.9 1359.3,567.8 1362.7,569.2 1366.1,570.3 1369.5,571.5 1372.9,572.6 1376.3,572.6 1379.7,571.5 1383.1,570.3 1386.5,568.6 1389.9,567.5 1393.3,566.9 1395.8,567.8 1398.4,565.2 1401.8,564.1 1405.2,563.5 1408.6,563.0 1412.0,561.8 1415.4,560.1 1418.8,558.4 1422.2,557.6 1425.6,555.9 1428.1,554.5 1430.7,552.5 1432.7,553.9 1434.9,556.2 1437.5,553.9 1440.0,555.0 1442.6,553.3 1446.0,554.5 1448.5,553.9 1451.1,553.3 1454.5,552.5 1457.9,551.6 1461.3,550.8 1464.7,549.4 1467.2,548.8 1469.8,547.1 1471.1,559.3 1472.3,574.6 1473.2,578.8 1474.5,567.8 1475.7,559.3 1476.9,549.9 1479.1,550.5 1480.8,551.6 1482.5,555.0 1485.1,551.6 1487.6,549.1 1490.2,548.8 1492.7,547.1 1495.3,545.7 1497.8,542.6 1500.4,542.0 1502.9,544.8 1505.5,545.7 1508.0,544.8 1510.6,546.0 1513.1,545.7 1515.7,545.4 1518.2,546.0 1520.8,544.0 1523.3,543.1 1525.9,543.7 1528.4,542.6 1531.0,542.6 1533.5,544.3 1536.1,544.8 1538.6,545.7 1541.2,547.1 1543.7,549.4 1546.3,552.5 1548.8,551.6 1551.4,550.5 1553.9,549.9 1556.5,549.4 1559.0,548.8 1561.6,548.8 1564.1,547.4 1566.7,546.5 1569.2,546.5 1571.8,545.7 1574.3,544.8 1576.9,545.7 1579.4,545.4 1582.0,545.4 1584.5,545.7 1587.1,547.1 1589.6,548.8 1592.2,546.5 1594.7,546.0 1597.3,547.4 1599.8,547.1 1602.4,547.7 1604.9,549.1 1607.5,551.6 1610.0,551.6 1610.9,553.1 1613.0,555.4 1615.0,557.5 1617.8,559.1 1619.8,561.6 1621.9,561.3 1623.9,562.3 1626.0,566.0 1628.1,568.7 1630.1,571.2 1632.2,573.3 1634.2,570.5 1635.6,567.8 1637.0,570.5 1639.0,573.3 1641.1,574.2 1643.2,573.7 1645.2,571.9 1647.3,569.8 1649.3,568.7 1651.4,570.5 1653.5,572.8 1655.5,575.3 1657.6,578.1 1659.6,580.1 1661.7,582.9 1663.8,585.6 1665.8,588.4 1667.2,585.6 1669.2,584.9 1670.6,581.5 1672.7,578.1 1674.7,575.3 1676.8,576.0 1678.9,579.2 1680.9,576.0 1683.0,574.2 1685.0,573.9 1687.1,574.2 1689.2,576.7 1691.2,578.7 1693.3,578.1 1695.3,576.0 1697.4,575.0 1698.4,573.9" fill="none" stroke="#85141b" stroke-width="2" stroke-linejoin="round" stroke-linecap="round"/>

<polyline points="0.0,758.8 0.8,758.0 3.1,748.6 4.8,746.9 6.5,754.6 8.2,750.3 10.2,764.8 11.6,766.5 13.3,755.4 15.3,752.0 17.0,748.6 19.0,740.1 20.7,732.5 22.1,742.7 23.8,752.6 25.2,753.7 26.9,735.9 28.6,744.4 30.9,745.2 33.1,736.2 34.8,734.5 36.5,745.2 38.2,764.8 39.9,773.3 41.1,776.7 43.3,768.2 45.0,757.7 47.6,756.6 49.0,752.0 50.7,752.0 52.4,762.2 54.1,762.8 55.8,769.0 57.5,768.2 58.6,773.3 60.3,775.0 62.0,769.0 63.7,765.6 65.4,769.0 67.1,765.6 69.4,763.9 71.1,756.3 72.8,765.6 74.5,767.3 76.8,764.8 78.5,775.8 80.7,766.5 82.4,774.1 84.1,777.5 85.8,770.7 87.5,767.3 88.7,779.2 90.9,772.4 93.1,767.3 94.8,768.2 96.9,775.8 98.2,791.1 99.4,797.9 101.6,797.9 104.0,800.5 105.4,812.4 106.7,799.6 107.9,826.0 110.5,819.2 112.2,820.9 114.2,818.3 116.4,812.4 118.1,803.9 119.8,820.0 121.0,824.3 123.2,813.2 125.4,811.5 126.6,804.7 128.3,806.4 130.0,793.7 132.6,785.2 135.6,776.7 137.7,792.0 139.7,774.1 141.9,771.6 144.1,768.2 146.5,778.4 149.2,784.3 151.3,779.2 153.8,775.0 156.0,770.7 158.1,768.2 159.4,774.7 162.3,773.0 164.5,764.8 167.4,759.7 170.0,757.7 172.0,755.4 173.7,758.8 175.9,759.7 177.6,769.0 179.3,774.1 181.9,780.1 183.9,774.1 186.1,772.4 187.8,764.8 189.5,752.9 191.7,744.1 193.8,749.5 195.5,744.1 198.0,741.8 200.2,730.8 201.9,732.5 204.8,725.4 206.5,742.7 207.7,773.0 209.1,757.7 211.6,765.6 213.3,755.4 214.5,771.6 215.9,779.2 218.4,764.8 221.0,760.5 223.0,752.6 225.2,754.6 226.9,760.0 228.6,756.3 231.2,752.0 233.2,755.4 235.4,746.9 238.0,750.3 240.5,749.8 242.2,761.4 244.8,771.6 247.3,756.3 249.5,748.6 251.6,755.4 253.3,761.4 255.8,746.9 258.0,749.2 259.2,755.4 260.9,753.7 262.6,744.7 265.2,744.4 267.2,746.1 268.6,739.6 271.1,736.7 272.8,746.1 275.0,739.3 276.7,735.6 279.1,726.5 280.5,729.9 281.8,726.0 284.7,738.4 287.3,728.2 289.8,729.9 292.7,712.1 295.4,717.2 297.5,722.3 300.0,721.4 301.9,725.8 304.4,716.0 306.7,711.2 308.7,704.9 310.7,703.2 312.4,695.6 314.6,705.8 316.9,704.9 318.0,707.5 320.3,693.0 322.6,677.7 325.7,671.8 327.7,680.3 329.9,693.0 332.5,687.4 334.5,704.1 335.9,714.3 337.9,697.3 339.6,705.8 341.8,697.3 344.1,690.1 345.8,691.3 347.8,696.4 350.3,687.9 352.9,677.7 355.4,667.5 357.1,673.5 358.8,666.7 361.1,682.8 362.8,672.6 364.8,686.2 366.8,687.4 368.5,689.6 370.7,677.7 373.0,672.6 375.0,661.6 378.4,659.9 380.9,664.1 383.1,659.0 385.5,645.4 387.7,646.3 389.9,643.7 392.0,651.4 394.0,650.5 395.7,646.3 397.9,653.9 399.6,658.2 401.8,658.5 403.5,663.3 405.6,666.7 408.1,663.3 410.3,661.6 412.7,663.3 414.9,656.5 416.6,649.7 418.8,642.0 420.5,644.6 422.6,651.4 424.3,655.6 426.8,652.2 429.0,659.9 430.7,650.5 432.8,645.4 434.5,642.9 437.0,628.4 439.2,635.2 441.3,634.4 443.0,639.5 445.5,634.4 448.4,636.9 451.5,631.0 454.5,625.0 456.6,630.7 458.6,629.3 460.8,632.7 463.4,634.7 465.1,643.7 467.1,651.4 468.8,658.5 470.5,653.1 472.7,663.3 476.1,659.0 478.3,661.6 481.2,661.9 483.4,652.2 485.8,651.4 488.0,657.3 489.7,669.2 491.9,677.2 494.0,672.6 496.0,661.6 498.7,659.9 501.6,657.3 503.8,660.7 506.2,648.8 508.4,648.0 510.6,651.4 512.7,645.4 515.2,655.6 517.4,647.1 519.8,648.8 522.0,648.0 524.2,639.5 526.3,637.8 528.8,630.1 531.4,625.0 533.9,634.4 536.5,635.2 539.0,628.4 541.6,619.9 544.1,615.7 545.8,616.5 548.4,605.5 551.4,595.3 553.5,594.4 556.0,591.0 557.2,604.6 558.9,605.2 561.1,597.8 563.7,591.6 566.2,601.2 568.4,602.1 570.1,605.2 572.2,597.0 573.9,589.3 576.4,582.5 578.1,581.7 579.0,574.4 580.2,584.3 582.8,576.1 585.3,567.6 587.0,563.3 589.2,565.0 590.9,554.8 593.0,553.1 594.7,548.9 596.4,542.1 598.4,545.5 600.6,538.7 602.8,536.1 604.0,549.7 605.7,556.5 607.4,555.7 609.6,569.3 611.7,567.6 613.7,574.4 615.9,586.3 618.1,578.6 619.3,588.0 620.5,601.6 622.2,622.0 623.6,637.3 624.9,649.2 626.1,644.9 627.8,661.1 630.0,674.7 631.2,673.0 632.5,710.1 633.9,696.5 635.0,705.0 636.7,724.6 639.0,695.7 641.0,732.2 643.0,697.4 644.7,712.7 646.9,724.6 648.6,716.1 650.3,700.8 652.0,697.4 653.7,680.4 656.3,678.7 658.3,679.5 660.0,684.6 662.2,679.5 663.9,666.8 665.6,664.2 667.8,650.9 669.8,639.0 671.5,633.9 673.7,639.8 675.4,644.1 677.1,660.2 679.3,649.2 681.4,639.8 683.4,637.3 684.8,642.4 686.5,631.3 688.5,640.7 690.2,635.6 691.6,642.4 693.3,646.6 695.0,637.3 696.7,628.8 698.4,621.1 700.9,623.7 703.5,624.5 706.0,626.2 708.9,637.3 711.1,625.4 714.0,616.0 716.2,625.4 718.8,632.2 720.5,634.7 723.0,622.0 725.6,616.9 728.1,618.6 730.7,612.6 733.2,609.2 736.6,608.4 738.3,627.1 740.0,632.2 741.0,637.1 742.7,630.3 743.9,636.2 745.6,625.2 747.8,621.8 750.1,634.0 751.8,626.0 754.1,622.6 756.3,618.4 758.0,627.7 760.3,630.3 762.6,627.7 764.8,629.4 766.5,624.3 768.8,615.8 771.6,616.7 773.9,615.8 775.9,607.9 777.9,615.8 780.1,609.9 781.8,603.9 784.1,604.8 786.1,600.5 788.6,604.8 790.9,601.4 793.2,604.5 795.4,603.1 797.7,593.7 799.7,580.7 801.4,585.2 803.4,581.0 805.6,573.3 806.8,570.8 808.5,574.5 810.7,569.9 812.4,590.3 814.7,588.6 816.7,586.9 818.7,589.5 820.9,597.1 823.1,600.5 825.2,593.7 828.2,588.6 830.3,608.2 832.0,609.9 834.0,614.1 836.2,609.0 838.8,606.8 840.5,618.4 843.0,621.8 845.2,607.3 847.3,606.5 849.0,597.1 851.0,589.5 853.2,589.2 855.4,586.1 857.1,594.9 858.8,587.8 860.9,588.6 862.9,584.4 865.1,589.5 867.7,588.6 869.7,589.5 871.9,581.8 873.6,575.0 875.8,578.4 877.9,577.3 880.4,583.5 883.0,582.7 885.5,581.8 887.2,590.3 889.4,596.3 891.5,604.8 893.2,613.3 895.2,612.4 896.9,619.2 899.1,612.4 901.3,605.6 903.4,600.5 905.9,597.7 908.1,593.7 910.2,593.2 912.2,593.7 913.9,589.5 915.3,598.0 917.0,599.7 919.0,603.1 920.4,602.2 922.4,607.3 924.1,611.3 926.8,606.5 929.2,604.8 931.4,609.0 934.0,603.1 936.5,598.8 939.1,595.4 942.1,591.2 944.5,593.7 946.7,598.0 948.9,601.4 951.8,595.4 954.0,592.9 956.1,598.8 958.1,605.6 960.3,597.1 962.5,593.7 964.6,595.4 966.6,600.5 968.8,593.7 970.5,597.1 972.7,585.2 974.8,578.4 976.5,579.3 978.2,581.8 980.7,577.6 982.9,580.1 985.0,574.5 987.0,575.6 989.2,580.7 991.8,583.5 994.3,586.1 996.5,590.3 998.6,596.3 1001.1,597.1 1003.3,598.0 1005.4,591.2 1007.4,593.7 1009.6,587.8 1011.3,598.0 1013.5,596.3 1015.6,592.0 1018.1,588.6 1020.7,584.4 1023.2,585.2 1025.8,588.6 1028.3,585.2 1030.0,584.4 1031.6,581.0 1033.6,586.9 1036.1,588.1 1038.4,583.0 1040.4,584.1 1042.9,579.3 1045.2,578.4 1047.2,580.1 1049.2,585.8 1051.4,584.4 1053.1,589.8 1055.4,592.0 1057.4,597.1 1059.4,594.3 1061.6,598.8 1063.9,599.7 1065.6,598.0 1067.6,606.5 1069.3,614.1 1071.8,618.4 1074.1,622.6 1075.2,627.2 1076.9,626.0 1077.8,638.8 1079.2,647.3 1079.8,656.1 1080.9,665.5 1082.6,668.0 1084.3,674.8 1086.3,685.9 1087.7,691.0 1088.8,699.5 1090.5,691.0 1091.7,680.8 1093.4,678.2 1095.6,684.2 1097.9,686.7 1099.0,700.3 1101.3,694.4 1103.3,687.6 1105.0,680.8 1106.7,671.4 1108.4,663.8 1110.1,661.2 1112.6,660.1 1115.2,659.5 1116.9,662.1 1118.6,660.1 1121.1,660.4 1122.3,668.0 1124.0,676.5 1125.7,685.0 1127.4,692.7 1129.1,703.7 1130.8,711.4 1131.8,716.2 1133.5,702.0 1134.7,697.8 1136.4,700.9 1138.6,699.5 1140.7,697.8 1142.0,686.7 1143.7,692.7 1144.9,701.2 1146.1,696.1 1147.8,702.9 1149.2,714.8 1150.9,711.4 1152.2,710.5 1153.9,716.5 1155.1,732.6 1156.3,737.7 1158.0,723.3 1159.4,729.2 1160.7,742.0 1161.9,759.3 1163.6,747.1 1164.8,740.3 1166.5,755.6 1167.9,762.0 1169.6,753.9 1170.9,742.0 1172.1,730.1 1173.8,723.3 1175.5,718.5 1176.7,720.7 1178.1,729.2 1179.4,718.2 1180.6,716.5 1182.3,704.6 1184.0,697.8 1185.2,701.2 1187.4,691.8 1189.1,686.7 1191.7,688.4 1193.7,689.3 1195.1,692.7 1196.4,687.6 1198.1,700.3 1199.3,697.8 1200.5,704.6 1201.9,712.2 1203.9,710.5 1205.6,696.1 1206.6,688.4 1208.3,692.7 1209.5,703.7 1210.7,698.6 1212.1,706.3 1213.8,702.9 1215.5,691.0 1217.2,685.9 1219.2,683.3 1220.6,689.3 1221.9,703.7 1223.6,707.1 1225.3,699.5 1226.5,689.3 1228.2,680.8 1230.4,679.9 1232.5,675.7 1234.5,674.8 1236.2,678.2 1238.4,676.5 1240.6,675.7 1241.8,674.8 1243.5,676.0 1245.2,674.8 1246.4,682.5 1247.8,690.1 1249.5,689.3 1250.8,691.0 1252.5,679.9 1254.9,677.7 1256.3,686.7 1258.0,688.4 1259.3,696.1 1260.5,691.0 1261.7,683.3 1263.4,687.6 1265.1,693.5 1266.8,698.6 1269.0,706.3 1270.7,696.9 1271.6,702.0 1273.3,695.2 1274.6,698.6 1276.3,685.9 1278.4,686.7 1280.9,690.1 1283.1,693.5 1284.8,693.0 1286.0,685.9 1287.7,683.9 1288.9,680.8 1291.1,687.9 1292.8,680.8 1294.5,675.7 1296.2,669.7 1298.8,667.2 1300.5,662.1 1303.0,666.3 1305.2,665.8 1307.6,660.4 1309.8,654.4 1311.7,649.4 1313.7,646.0 1315.9,661.3 1318.2,654.5 1320.2,656.2 1322.2,651.1 1324.4,648.5 1326.7,654.5 1328.7,644.3 1331.2,640.9 1333.8,637.5 1335.8,635.8 1338.0,644.3 1340.3,647.7 1342.0,650.2 1343.7,635.8 1345.7,629.8 1347.7,636.6 1349.9,641.7 1352.5,640.9 1354.5,646.8 1356.7,640.0 1359.3,642.6 1361.8,634.1 1364.7,629.8 1366.9,635.8 1368.6,640.9 1370.3,653.6 1372.0,663.0 1373.2,670.2 1374.6,684.6 1377.1,680.4 1378.3,682.1 1380.0,699.1 1382.2,700.5 1383.9,688.0 1386.2,676.1 1388.2,674.4 1389.9,677.8 1391.6,671.0 1394.1,666.4 1396.7,663.8 1399.2,657.9 1401.8,652.8 1404.3,650.7 1406.5,654.5 1408.6,656.2 1410.6,654.5 1412.3,664.7 1412.8,676.1 1414.5,675.3 1415.7,678.7 1417.1,671.9 1421.3,659.6 1423.0,669.3 1425.2,670.2 1427.3,673.3 1429.8,675.0 1432.0,672.2 1434.9,671.6 1435.8,663.8 1437.5,671.9 1438.8,677.3 1440.5,672.7 1441.7,675.3 1443.4,669.3 1446.0,667.2 1450.2,664.7 1452.4,661.3 1454.5,659.6 1457.0,653.1 1459.2,659.6 1461.3,668.5 1463.0,677.8 1464.7,682.9 1466.7,677.0 1468.1,688.0 1469.8,704.2 1471.1,724.6 1472.3,748.4 1473.2,779.0 1474.0,794.3 1474.9,801.1 1475.9,763.7 1476.6,787.5 1477.4,804.5 1478.6,816.4 1480.0,835.1 1481.3,819.8 1482.5,779.0 1483.7,767.1 1485.1,751.8 1486.4,738.2 1487.6,728.0 1488.8,721.2 1489.8,728.8 1491.0,721.2 1491.9,723.7 1493.2,718.6 1494.9,716.1 1497.0,714.4 1499.0,713.5 1500.4,715.2 1502.4,710.1 1504.6,708.4 1505.8,706.7 1507.2,717.8 1508.9,727.1 1510.2,714.4 1511.9,716.9 1513.1,728.0 1514.8,715.2 1516.0,714.4 1517.4,724.6 1519.1,733.1 1520.8,722.9 1522.5,711.0 1524.2,700.8 1525.9,696.5 1527.6,693.1 1529.3,688.9 1531.0,690.6 1532.7,679.5 1535.2,680.1 1536.9,678.7 1538.6,670.2 1539.5,661.3 1542.0,654.5 1544.2,646.0 1546.3,646.8 1547.6,655.3 1549.7,656.2 1551.7,660.4 1553.9,654.5 1556.5,649.4 1559.0,650.2 1561.2,646.8 1563.6,639.2 1565.8,634.1 1568.4,629.0 1570.4,628.1 1572.6,632.4 1574.3,629.8 1576.5,639.2 1578.6,654.5 1580.3,641.7 1582.8,637.5 1585.4,631.5 1587.9,623.9 1590.1,616.2 1592.2,612.0 1594.2,616.2 1596.4,629.0 1598.1,637.5 1599.8,645.1 1602.0,635.8 1603.7,636.6 1605.8,629.0 1607.8,621.3 1610.0,611.1 1610.9,609.6 1612.7,604.1 1614.1,597.3 1616.0,599.3 1617.3,587.7 1618.7,568.4 1620.1,578.1 1621.2,576.7 1622.6,571.2 1623.9,589.0 1625.6,591.1 1627.0,582.9 1628.7,584.9 1630.1,578.1 1631.9,573.7 1633.5,571.2 1634.9,568.4 1636.6,562.3 1638.4,561.9 1639.7,569.8 1641.1,577.4 1642.9,576.7 1644.3,584.9 1645.9,591.8 1647.6,593.8 1648.7,595.9 1650.0,604.8 1651.4,600.0 1653.0,598.7 1654.8,602.1 1656.2,606.9 1657.6,609.0 1659.0,612.4 1659.9,620.6 1661.0,615.1 1662.1,604.8 1663.1,598.0 1664.4,606.9 1665.8,610.3 1667.2,605.5 1669.0,599.3 1670.3,606.9 1671.3,619.2 1672.7,624.7 1674.1,620.6 1676.1,635.0 1677.8,624.7 1679.1,619.9 1680.9,630.9 1682.3,623.4 1683.7,616.8 1685.5,623.4 1686.8,631.9 1688.5,620.6 1689.8,626.1 1691.5,619.9 1692.9,620.6 1694.2,630.2 1696.0,646.0 1697.4,635.7 1698.4,631.6" fill="none" stroke="#c7175d" stroke-width="2" stroke-linejoin="round" stroke-linecap="round"/>

<polyline points="322.3,682.0 324.8,680.3 327.4,676.9 329.9,672.6 332.5,673.1 334.5,668.4 336.7,666.7 339.3,668.4 341.8,675.2 344.1,676.9 346.1,680.3 348.6,674.3 351.2,675.2 353.2,672.6 356.3,678.6 358.3,681.6 361.1,679.4 363.9,674.3 366.2,672.6 369.0,666.7 371.3,668.4 373.6,663.3 375.8,660.7 378.4,659.0 380.9,657.3 383.1,653.4 385.2,659.0 387.7,661.6 390.3,657.3 392.3,655.6 395.0,659.9 397.1,663.3 399.6,667.5 402.2,665.0 404.2,659.0 407.3,655.6 410.7,655.6 413.2,654.8 414.9,659.9 416.6,653.1 419.2,653.1 421.7,652.2 424.3,648.8 426.8,648.0 428.5,642.9 430.2,639.2 432.8,643.7 435.3,648.0 437.9,647.1 440.4,649.7 442.6,652.8 445.5,648.8 447.7,646.3 449.8,649.7 452.3,645.4 454.0,644.6 456.6,645.4 459.1,638.6 461.3,642.0 463.7,637.5 466.4,634.4 469.3,633.5 471.9,631.0 474.4,628.4 477.0,630.1 479.5,625.9 482.1,619.9 484.6,620.8 487.2,627.6 489.7,625.9 492.3,620.8 494.8,614.0 497.0,610.3 499.4,611.4 501.6,619.9 504.2,620.8 506.7,619.4 509.3,619.9 512.3,619.1 515.2,621.6 517.4,629.3 519.5,621.6 522.0,625.9 524.6,631.8 526.3,635.2 528.8,631.8 531.0,643.7 532.7,650.5 534.8,644.6 537.3,640.3 539.9,639.5 542.4,636.1 544.6,630.1 545.8,625.6 547.5,632.7 549.2,639.5 550.9,635.2 553.1,644.6 555.2,648.8 557.2,646.3 558.9,643.7 560.6,653.1 562.8,655.6 564.5,666.7 566.7,671.8 568.8,658.2 570.1,652.2 572.2,661.6 574.7,660.7 577.3,664.1 579.8,653.1 581.5,654.8 583.7,646.3 585.8,649.7 587.5,642.0 590.0,643.7 591.3,642.4 593.8,648.3 596.0,650.0 598.4,654.3 600.6,664.5 602.8,667.9 605.2,661.9 607.4,658.5 609.6,655.1 611.7,656.8 614.2,655.1 617.1,650.0 618.8,656.0 619.8,673.0 620.6,678.7 622.3,695.7 624.0,734.8 625.7,711.8 627.7,728.0 629.9,777.3 630.8,748.4 633.3,739.9 635.9,728.8 637.6,734.8 639.3,734.5 641.0,745.0 643.5,752.6 644.4,756.9 645.8,752.6 646.9,763.7 648.6,773.9 650.3,789.2 651.2,807.0 652.9,779.8 654.3,795.1 656.0,782.4 657.7,765.4 659.4,756.9 661.4,748.4 662.8,752.6 663.9,743.3 666.2,758.6 668.2,748.4 670.2,738.5 671.9,744.1 673.6,751.8 675.8,758.6 677.0,764.0 678.7,756.9 680.9,734.8 682.6,716.9 684.3,722.9 686.9,718.6 688.9,725.4 691.1,705.0 693.7,718.6 696.2,712.7 698.8,714.4 700.8,718.6 703.0,710.1 705.6,714.1 707.3,703.3 709.0,704.5 711.0,697.7 713.2,700.8 715.8,701.6 717.8,708.4 720.5,710.1 722.6,704.2 725.1,698.2 728.0,688.9 731.1,687.2 733.6,685.2 736.2,677.8 738.2,687.2 739.9,682.9 741.6,689.7 743.8,695.7 746.4,682.1 748.4,693.1 749.8,699.1 751.5,694.0 752.8,694.8 754.5,685.5 757.4,681.2 759.6,686.9 762.3,679.6 764.8,676.5 767.4,678.7 769.9,673.6 772.5,671.9 775.6,666.8 777.6,676.2 780.1,672.8 782.7,674.5 785.2,671.9 788.6,670.2 791.2,668.5 794.3,666.0 796.6,663.4 798.8,664.3 801.7,666.0 803.9,666.8 806.8,664.3 809.0,660.9 811.3,656.1 813.6,658.3 816.7,656.1 819.2,660.0 820.9,664.3 823.1,660.9 824.8,654.9 827.2,652.7 828.9,656.6 830.6,676.2 832.8,675.3 834.5,671.9 837.1,670.2 839.6,666.8 841.3,680.4 843.5,685.5 845.6,676.2 848.1,663.4 850.3,666.8 852.4,671.9 854.1,678.7 855.8,671.1 857.8,668.5 860.0,665.1 862.2,664.3 864.6,660.0 866.8,655.8 869.0,652.7 871.9,654.9 874.1,656.6 876.5,653.2 879.2,651.5 882.1,653.2 884.7,647.3 887.2,648.1 889.4,656.6 891.5,652.7 892.8,657.5 894.9,651.5 897.4,649.8 900.0,646.4 902.5,644.7 905.1,645.6 907.6,647.3 910.2,645.6 912.7,643.0 913.9,641.3 915.6,646.4 917.8,648.1 920.4,649.0 922.4,647.3 924.6,650.7 926.8,653.7 928.9,650.3 931.4,649.0 933.6,646.4 935.7,647.6 938.2,643.9 940.8,641.3 943.8,640.1 946.7,639.6 949.3,637.9 952.3,637.1 954.7,632.8 957.8,630.3 960.3,631.1 962.5,626.0 964.2,623.8 966.3,636.2 968.8,637.9 971.0,644.7 973.1,639.6 975.6,634.5 977.3,633.7 979.5,638.8 981.6,649.8 984.1,647.3 985.8,649.0 988.0,643.5 990.1,642.2 991.8,645.6 994.3,639.6 996.5,636.2 998.9,642.2 1001.6,645.9 1004.5,647.6 1006.7,649.8 1009.6,647.3 1012.2,646.4 1014.7,644.7 1017.3,641.3 1019.8,638.4 1022.4,636.7 1025.8,637.4 1028.3,636.2 1030.0,635.4 1032.7,634.5 1035.3,632.0 1037.8,629.9 1040.4,629.4 1042.9,627.7 1045.5,628.9 1048.0,628.2 1050.6,626.5 1053.1,628.9 1055.7,627.2 1058.2,625.2 1060.8,623.1 1062.5,630.3 1065.0,633.3 1067.3,633.7 1069.6,627.7 1071.8,622.6 1074.4,621.8 1076.9,619.2 1079.5,618.1 1082.0,616.4 1084.6,615.8 1086.6,611.3 1088.8,606.2 1091.4,609.0 1093.9,611.6 1096.2,613.3 1098.2,618.7 1100.7,608.2 1102.4,613.3 1104.1,611.3 1106.4,614.7 1108.4,615.8 1110.4,618.7 1113.1,617.5 1115.2,620.9 1117.7,624.3 1119.4,622.6 1121.1,627.2 1123.7,623.8 1126.2,622.6 1128.8,621.8 1131.3,620.1 1133.9,627.7 1135.6,632.8 1137.6,626.9 1139.8,627.7 1142.0,623.5 1144.9,618.4 1147.1,620.9 1149.2,625.5 1151.7,620.9 1153.9,619.2 1156.0,622.6 1158.5,620.1 1160.7,623.1 1162.8,626.9 1164.8,625.5 1167.5,633.3 1169.6,626.9 1172.1,619.2 1174.7,614.7 1177.2,613.3 1179.8,613.6 1182.3,616.4 1184.5,609.9 1186.6,615.8 1189.1,613.0 1191.7,611.6 1194.2,610.7 1196.4,604.8 1199.3,601.4 1201.9,598.8 1204.4,601.4 1207.0,604.5 1209.0,603.4 1211.2,610.2 1213.4,604.8 1215.5,611.3 1217.2,614.7 1219.2,615.8 1221.4,620.9 1224.0,621.8 1226.5,619.8 1228.7,614.1 1230.8,618.4 1233.3,613.6 1235.0,612.4 1237.2,615.0 1240.1,614.1 1242.7,611.6 1245.2,610.7 1247.8,618.1 1250.3,615.8 1252.9,613.6 1255.4,611.3 1258.0,614.1 1261.4,617.0 1264.8,614.1 1268.2,611.3 1270.7,613.6 1273.3,615.0 1275.8,613.3 1278.4,612.4 1280.4,615.8 1283.1,611.9 1286.0,609.9 1288.2,614.1 1291.1,613.0 1293.7,615.3 1296.2,612.4 1298.8,610.2 1301.3,611.3 1303.9,610.7 1306.4,614.1 1309.0,618.4 1311.5,622.6 1314.1,625.2 1316.6,629.9 1320.0,628.6 1320.5,631.5 1322.7,627.3 1324.4,631.0 1327.0,629.0 1329.0,629.8 1331.2,627.3 1333.5,623.5 1335.5,623.0 1337.5,625.6 1339.7,621.3 1342.0,618.8 1344.0,618.4 1346.0,615.4 1348.2,614.5 1350.5,616.2 1352.5,613.7 1354.5,612.8 1356.7,613.3 1359.3,612.8 1361.8,616.2 1364.1,621.3 1366.1,626.4 1368.6,623.0 1370.9,622.2 1373.2,617.9 1375.4,618.8 1377.1,615.7 1378.8,616.2 1380.0,629.0 1381.7,629.8 1383.4,629.0 1385.6,622.2 1387.9,617.9 1389.9,613.7 1392.4,611.1 1394.7,612.8 1397.0,611.1 1399.2,608.6 1401.8,606.5 1404.3,609.4 1406.5,607.2 1408.9,607.7 1411.1,606.0 1413.7,606.9 1416.2,603.1 1418.4,605.2 1420.5,603.1 1422.5,606.0 1424.7,603.1 1427.3,601.8 1429.8,600.1 1432.4,599.8 1434.9,597.5 1437.5,598.4 1440.0,597.0 1442.6,596.7 1444.6,595.8 1446.8,600.1 1449.4,598.4 1451.9,599.2 1454.1,601.8 1456.5,600.1 1459.2,599.2 1461.3,595.8 1463.8,595.0 1465.5,590.7 1466.7,588.5 1468.1,596.7 1468.9,606.9 1470.1,602.6 1471.1,618.8 1471.8,639.2 1472.8,660.4 1474.0,640.9 1475.2,648.5 1476.6,632.4 1477.4,622.2 1479.1,627.3 1480.8,632.4 1482.5,629.0 1484.7,640.0 1486.8,622.2 1488.8,612.0 1490.5,618.8 1492.7,625.6 1494.9,621.3 1497.0,622.2 1499.0,623.0 1501.2,617.9 1503.4,616.2 1505.5,617.1 1508.0,618.8 1510.2,620.5 1512.3,623.0 1514.0,616.2 1516.5,620.5 1518.7,625.2 1520.8,617.1 1522.5,611.1 1525.0,610.3 1527.2,612.0 1529.3,611.6 1531.8,612.8 1534.0,614.5 1536.1,612.0 1538.6,606.0 1540.8,604.3 1543.2,606.9 1545.4,602.6 1547.6,600.9 1550.0,597.5 1552.2,595.8 1554.4,591.6 1556.5,589.0 1559.0,591.6 1561.6,586.5 1564.1,581.4 1566.3,584.8 1568.4,583.1 1570.9,581.1 1573.5,579.7 1576.0,578.8 1578.6,578.8 1581.6,574.3 1583.7,578.8 1585.7,582.2 1588.4,583.9 1590.5,578.0 1593.0,575.4 1595.6,574.6 1598.6,577.1 1601.5,573.7 1603.7,570.3 1606.1,566.9 1607.8,575.4 1610.0,579.7 1610.9,581.1 1613.0,582.2 1615.4,584.9 1617.8,582.2 1619.8,580.8 1621.9,581.9 1623.7,574.6 1626.0,575.3 1627.8,575.0 1629.2,575.3 1630.1,582.9 1631.9,587.7 1633.5,594.5 1634.9,591.1 1636.3,588.4 1637.9,595.9 1639.7,606.2 1641.1,598.7 1643.2,598.4 1644.8,599.3 1646.6,598.7 1648.0,591.8 1649.8,587.7 1651.1,585.6 1652.8,591.1 1654.4,597.3 1655.8,595.2 1656.9,593.8 1658.5,600.0 1659.6,606.9 1660.7,617.9 1662.4,623.4 1664.0,626.1 1665.4,623.4 1666.8,613.8 1668.6,615.8 1669.9,608.3 1671.7,606.9 1673.6,605.5 1675.4,609.0 1677.2,611.7 1678.9,614.4 1680.9,612.4 1682.7,608.3 1684.4,604.8 1686.0,602.1 1687.4,600.0 1689.2,602.8 1690.9,607.6 1692.6,608.3 1694.2,615.8 1696.0,619.9 1697.4,621.3 1698.4,617.9" fill="none" stroke="#ff9800" stroke-width="2" stroke-linejoin="round" stroke-linecap="round"/>

<polyline points="0.0,212.8 5.1,211.4 7.6,205.4 11.0,213.1 17.0,209.7 22.1,215.6 25.5,218.2 30.6,214.3 36.5,223.3 42.5,224.5 48.4,221.3 54.4,230.1 58.6,244.5 62.0,246.7 65.4,236.9 70.5,228.4 76.5,235.2 81.6,238.6 86.7,236.0 91.8,242.0 95.2,257.3 96.9,269.2 99.4,255.6 103.7,253.0 107.9,245.4 113.0,244.5 118.1,241.6 120.7,246.2 124.9,247.9 128.3,248.8 131.7,242.5 136.0,246.2 139.4,247.9 144.5,255.6 147.9,253.0 151.3,261.5 154.7,265.8 158.1,287.0 161.5,285.3 164.9,272.6 168.3,277.7 171.7,287.9 173.7,295.0 176.8,281.1 180.2,278.5 184.4,273.4 188.7,280.2 192.9,275.1 196.3,284.5 199.7,290.4 203.1,287.9 205.7,289.6 208.2,279.4 210.8,283.6 215.0,277.7 217.6,271.7 221.0,273.4 223.5,265.8 227.8,264.9 231.2,266.6 236.3,265.8 241.4,261.5 245.6,262.4 249.9,258.1 255.0,257.3 260.1,255.6 265.2,250.5 270.3,245.4 275.4,242.0 280.5,245.4 285.6,247.1 290.0,247.3 292.5,250.7 295.1,251.3 297.6,246.2 301.0,245.3 304.4,248.2 307.8,251.6 309.0,249.9 311.2,255.0 313.8,249.6 318.0,246.8 320.6,247.9 322.3,246.5 325.7,250.7 329.4,240.0 331.6,240.5 334.5,238.8 337.6,238.5 339.6,236.6 342.7,240.0 345.2,241.7 348.1,238.0 350.3,237.1 352.9,235.4 356.3,239.4 358.8,241.4 361.7,244.8 364.8,243.1 367.3,243.4 369.0,238.8 372.4,238.0 374.7,236.3 376.7,238.8 380.1,234.6 382.6,233.9 386.0,234.6 388.6,237.1 392.0,233.4 394.5,234.9 396.2,234.6 399.6,240.2 403.0,235.4 407.3,230.7 409.8,230.3 412.4,230.9 414.9,232.0 416.6,228.1 419.2,230.3 421.7,229.5 423.4,230.3 426.0,228.1 428.5,228.6 430.2,226.1 433.6,227.3 436.2,227.8 439.9,224.4 443.0,229.5 445.5,228.6 447.2,232.0 449.8,232.9 452.3,230.3 455.2,233.7 457.4,229.2 460.0,229.5 462.5,226.6 465.1,225.8 467.6,224.7 470.2,222.4 473.6,219.3 477.0,219.6 479.5,216.7 482.9,215.9 485.5,214.2 488.0,215.0 491.4,214.2 494.0,213.3 496.5,211.6 499.1,210.8 502.5,217.6 504.5,217.3 506.7,214.5 509.3,212.2 512.7,207.7 516.1,205.7 519.5,204.5 521.5,205.4 523.7,206.0 526.3,204.0 528.8,202.0 530.5,205.7 533.1,212.8 535.6,210.8 537.8,209.4 539.9,210.8 542.4,206.5 545.0,202.3 546.7,200.9 549.2,205.4 550.9,204.8 553.5,210.8 555.5,211.6 558.6,206.5 560.3,209.1 562.8,209.4 564.5,215.0 567.1,224.1 569.6,218.4 571.3,222.7 573.9,221.8 577.3,227.5 579.0,227.8 581.5,223.5 583.2,220.1 584.9,219.3 587.5,215.9 590.2,216.7 591.9,214.2 594.4,217.6 597.0,220.1 599.5,226.1 601.2,229.5 603.3,232.9 605.5,230.3 608.0,229.5 610.3,226.9 612.6,228.6 614.8,232.9 617.1,232.0 619.1,236.3 620.5,249.9 621.6,265.2 622.5,278.8 623.9,272.0 624.5,281.3 625.9,268.2 627.6,276.2 629.0,280.5 629.8,294.9 631.0,280.5 633.0,282.2 635.2,281.3 637.8,280.5 639.2,273.7 640.9,285.6 643.2,289.8 646.0,284.2 647.7,297.5 649.7,309.4 651.1,317.5 653.1,304.3 655.6,293.2 657.9,287.3 659.9,284.2 662.4,282.2 664.1,274.5 666.4,281.3 668.4,277.1 670.6,272.0 673.1,274.0 675.2,277.1 677.2,282.2 678.9,272.0 680.3,266.0 682.8,262.6 685.4,261.8 687.9,259.8 689.6,260.9 691.3,254.1 693.5,260.1 695.6,255.0 697.3,252.4 699.8,258.4 701.5,253.3 704.1,250.7 706.6,250.2 709.2,249.0 711.7,249.6 714.3,244.8 716.8,249.9 719.7,255.0 722.8,249.9 725.3,247.3 727.9,243.1 730.4,241.4 733.8,238.0 736.4,236.3 737.7,249.0 739.8,248.2 741.8,252.4 744.0,253.3 746.6,248.5 748.3,254.1 750.0,260.9 751.7,253.3 754.2,253.6 756.8,248.2 758.5,251.6 760.5,254.7 763.6,249.0 767.0,244.8 770.4,241.4 773.8,238.8 776.3,235.4 778.0,238.5 780.6,235.4 783.1,233.7 786.5,231.2 789.9,228.6 792.5,229.5 794.5,224.4 796.7,222.7 799.3,225.2 802.7,228.6 805.2,225.2 807.8,223.5 810.3,220.7 812.0,220.1 814.6,222.7 817.1,223.5 819.7,229.5 823.1,229.8 824.8,222.7 827.3,221.8 829.0,222.7 830.7,235.4 832.4,239.7 834.1,247.3 835.3,241.4 837.5,243.1 839.7,237.1 840.9,245.6 843.1,246.5 845.2,236.3 847.7,228.6 850.3,230.3 852.0,232.0 854.0,243.1 855.7,234.6 857.9,235.4 860.5,232.0 863.9,228.6 867.3,224.4 870.7,221.0 874.1,219.3 877.5,215.9 880.0,215.6 881.0,217.9 883.6,216.2 886.1,219.6 888.7,225.6 890.4,227.3 892.9,229.0 894.6,223.0 897.2,222.2 899.7,220.8 902.3,220.5 904.8,217.4 907.7,215.4 910.8,214.5 913.3,210.6 915.9,211.1 918.4,212.0 921.0,213.7 923.5,215.7 926.1,220.5 928.1,215.4 931.2,214.5 934.6,215.4 936.6,211.1 939.7,208.6 942.2,206.0 945.6,205.2 948.2,205.2 950.7,201.8 954.1,200.9 956.7,199.2 958.4,200.1 961.8,193.3 963.5,191.9 966.0,193.3 968.6,195.0 971.1,197.5 973.7,193.3 975.4,189.9 978.8,188.5 980.8,188.2 982.5,191.6 985.6,194.1 988.1,189.9 990.3,188.2 992.4,189.0 994.9,185.6 997.5,183.9 1000.9,181.4 1003.4,180.0 1006.0,182.2 1008.5,179.7 1011.1,178.0 1014.1,178.0 1016.2,182.2 1018.7,179.7 1021.3,176.3 1023.8,174.6 1026.4,177.1 1029.8,176.3 1031.1,179.7 1033.2,176.0 1036.6,175.4 1039.1,173.7 1041.7,170.3 1044.2,169.5 1046.8,167.8 1049.3,167.5 1051.9,168.6 1054.4,171.2 1057.0,169.5 1059.5,165.8 1062.1,165.2 1064.6,166.1 1067.2,169.5 1068.9,174.3 1071.4,165.2 1074.0,163.5 1076.5,161.3 1079.1,160.7 1080.8,165.2 1082.5,160.1 1085.0,160.7 1087.6,163.5 1090.1,164.4 1091.0,166.1 1092.7,161.8 1095.2,159.0 1097.8,159.3 1099.5,161.8 1101.2,159.6 1103.2,161.3 1105.4,159.3 1108.0,159.6 1110.5,158.1 1113.1,157.9 1115.6,158.4 1118.2,159.6 1120.7,159.3 1123.3,160.7 1125.0,157.6 1126.7,160.1 1129.2,159.3 1130.9,160.1 1132.6,167.8 1135.2,171.5 1136.9,168.6 1139.4,170.3 1142.0,164.4 1144.5,161.0 1147.1,160.1 1149.1,163.5 1151.3,159.6 1153.9,160.1 1156.4,164.4 1158.1,161.8 1160.7,167.8 1162.4,174.6 1164.9,172.0 1167.5,175.4 1170.0,170.3 1171.9,165.8 1174.4,163.3 1177.0,162.4 1179.0,160.7 1181.2,159.9 1183.8,161.6 1186.3,163.3 1188.9,159.6 1191.4,159.0 1193.7,160.2 1194.8,163.3 1197.4,158.2 1199.9,154.8 1203.3,153.9 1206.7,153.9 1209.3,154.5 1211.0,157.3 1214.4,154.8 1217.8,156.5 1220.3,157.3 1222.0,159.9 1224.6,154.8 1226.3,152.2 1227.7,153.1 1228.8,149.4 1231.4,148.8 1233.9,149.7 1236.5,148.3 1239.9,147.1 1243.3,143.2 1245.8,141.5 1248.4,142.0 1250.9,143.7 1252.6,142.9 1254.8,144.6 1257.7,141.5 1260.3,140.3 1262.0,141.2 1264.5,138.6 1267.9,138.6 1270.5,139.2 1273.0,136.9 1275.6,136.1 1278.1,136.1 1280.7,139.2 1283.2,135.8 1284.9,136.9 1286.6,134.4 1289.2,133.5 1291.7,131.0 1295.1,129.8 1298.5,130.1 1301.1,128.4 1304.5,125.6 1307.9,124.5 1309.6,120.8 1311.3,118.2 1313.0,115.4 1314.7,119.9 1316.0,128.4 1317.7,121.6 1319.8,124.2 1321.5,119.9 1323.2,120.5 1324.9,130.1 1327.4,126.7 1328.3,129.3 1330.8,125.9 1333.4,125.6 1335.1,123.3 1337.6,123.3 1340.2,119.9 1342.7,120.8 1344.9,123.3 1347.0,119.9 1349.5,118.2 1352.1,117.1 1355.1,115.7 1357.2,114.0 1359.2,114.8 1361.4,112.3 1363.6,113.1 1365.7,115.7 1366.5,120.8 1368.2,120.5 1369.1,125.9 1371.6,119.9 1373.3,123.3 1374.5,127.3 1375.9,120.8 1377.6,125.0 1379.3,134.4 1380.5,139.8 1382.7,133.5 1385.2,125.9 1387.8,124.5 1390.3,121.6 1392.9,119.4 1394.6,119.1 1395.9,121.6 1398.0,118.8 1400.0,118.2 1403.1,114.0 1405.6,113.1 1408.2,111.4 1410.7,116.5 1413.3,120.8 1415.0,116.5 1417.5,113.1 1420.1,110.3 1422.6,108.9 1424.8,108.0 1426.0,111.4 1427.7,113.1 1429.9,116.5 1432.0,113.1 1433.7,109.7 1435.4,108.9 1437.9,111.4 1440.5,110.6 1443.9,107.5 1447.3,103.8 1450.7,102.9 1453.2,101.2 1455.8,98.7 1458.3,97.0 1460.0,94.4 1461.9,95.8 1463.2,98.7 1464.8,93.6 1466.3,92.1 1467.3,95.8 1468.8,108.3 1470.3,112.0 1471.8,124.6 1472.8,146.5 1474.3,133.5 1475.5,132.0 1477.0,118.7 1478.7,115.0 1480.7,116.9 1482.9,112.8 1484.6,115.7 1486.6,108.3 1488.8,100.7 1490.3,106.9 1491.7,105.4 1493.2,108.6 1495.0,103.2 1496.9,99.2 1499.1,98.7 1501.3,94.7 1503.6,92.1 1505.8,87.4 1507.3,90.6 1509.5,94.3 1512.1,95.8 1513.9,90.6 1516.1,87.6 1517.6,89.9 1519.1,97.3 1520.6,86.9 1522.8,84.7 1525.4,80.3 1527.2,81.0 1530.2,78.8 1532.8,75.1 1534.6,76.6 1536.1,74.1 1537.3,78.8 1539.3,71.1 1541.3,72.1 1543.2,75.5 1545.7,71.4 1547.9,70.2 1550.1,67.0 1552.6,62.2 1555.3,61.8 1557.5,60.7 1559.7,63.3 1562.0,61.8 1564.2,60.3 1565.9,62.8 1567.9,58.4 1570.1,56.3 1572.3,56.9 1574.5,54.4 1576.7,53.4 1579.0,52.2 1581.6,50.7 1583.7,53.7 1585.6,53.4 1587.1,56.6 1589.3,55.1 1591.5,51.4 1593.7,46.6 1596.4,45.5 1598.2,48.0 1599.9,50.7 1601.9,46.0 1602.6,47.7 1604.1,44.5 1605.9,44.0 1607.8,47.0 1608.8,47.4 1610.0,55.1 1612.2,52.2 1614.4,55.4 1616.6,57.3 1618.1,56.3 1620.0,61.8 1621.8,53.7 1623.3,50.4 1625.5,51.4 1627.4,55.1 1629.2,59.6 1631.0,64.7 1632.2,65.5 1633.9,72.1 1635.4,64.7 1636.6,63.3 1638.1,69.9 1639.9,80.6 1641.0,72.9 1642.2,75.1 1644.0,72.9 1645.8,73.6 1647.7,67.7 1649.6,62.5 1651.4,58.8 1653.2,60.3 1654.6,67.7 1655.8,70.7 1657.3,66.2 1658.8,73.6 1660.5,82.5 1661.7,84.0 1662.9,81.7 1664.4,84.0 1666.2,77.3 1667.6,72.1 1669.1,77.0 1670.3,69.2 1672.1,67.7 1673.9,65.8 1675.8,70.7 1677.7,73.6 1679.5,74.3 1681.7,70.7 1683.2,68.7 1684.6,68.1 1686.9,64.3 1689.1,65.5 1690.6,67.0 1691.6,69.6 1693.1,68.7 1694.2,73.2 1696.5,71.4 1697.9,67.0" fill="none" stroke="#000000" stroke-width="2" stroke-linejoin="round" stroke-linecap="round"/>

<line x1="0" y1="792.5" x2="1698" y2="792.5" stroke="#9c9c9c" stroke-width="1" stroke-dasharray="6,5"/>
<line x1="806.5" y1="0" x2="806.5" y2="880" stroke="#9c9c9c" stroke-width="1" stroke-dasharray="6,5"/>
<path d="M798 792.5H815M806.5 784V801" stroke="#000" stroke-width="1.2" fill="none"/>
</svg>

<!-- legend -->
<div class="abs" style="left:1px;top:4.200px;width:410px;height:24px;background:rgba(255,255,255,.55)"></div>
<div class="abs" style="left:1px;top:28.200px;width:31px;height:24px;background:rgba(255,255,255,.55)"></div>
<div class="abs" style="left:1px;top:52.200px;width:187px;height:24px;background:rgba(255,255,255,.55)"></div>
<div class="abs" style="left:1px;top:76.200px;width:93.300px;height:24px;background:rgba(255,255,255,.55)"></div>
<div class="abs" style="left:1px;top:100.200px;width:121px;height:24px;background:rgba(255,255,255,.55)"></div>
<div class="abs" style="left:1px;top:124.200px;width:265px;height:24px;background:rgba(255,255,255,.55)"></div>
<div class="abs" style="left:1px;top:148.200px;width:261px;height:24px;background:rgba(255,255,255,.55)"></div>
<div class="abs" style="left:1px;top:172.200px;width:245px;height:24px;background:rgba(255,255,255,.55)"></div>
<div class="abs" style="left:1px;top:196.200px;width:267px;height:24px;background:rgba(255,255,255,.55)"></div>
<div class="abs" style="left:1px;top:220.200px;width:241px;height:24px;background:rgba(255,255,255,.55)"></div>

<div class="ico" style="top:7.600px;background:#c8102e;color:#fff;font-size:8.500px;font-weight:bold;line-height:18px;text-align:center;letter-spacing:-0.500px">500</div>
<span class="t" style="left:32.2px;top:8.6px;font-size:15.5px;letter-spacing:-0.59px;color:#3d3d3d">S&amp;P 500 Index · 1W · SPCFD</span>
<div class="abs" style="left:232.400px;top:7.500px;width:17px;height:17px;border-radius:50%;background:#f0f0f0"></div>
<div class="abs" style="left:236px;top:14.300px;width:9.800px;height:3.400px;background:#a9a9a9;border-radius:1.700px"></div>
<span class="t" style="left:258.0px;top:8.6px;font-size:12.5px;letter-spacing:0.09px;color:#262626">1,332.41</span>
<span class="t" style="left:314.5px;top:8.6px;font-size:12.5px;letter-spacing:-0.14px;color:#262626">+18.61 (+1.42%)</span>
<span class="t" style="left:10.2px;top:32.6px;font-size:12.5px;letter-spacing:-0.06px;color:#b4b5b9">Vol</span>
<span class="t" style="left:10.2px;top:56.6px;font-size:12.5px;letter-spacing:0.03px;color:#b4b5b9">Adaptive Envelope 21 EMA 1 2</span>
<span class="t" style="left:10.2px;top:80.6px;font-size:12.5px;letter-spacing:-0.29px;color:#b4b5b9">SMA 200 close</span>
<span class="t" style="left:10.2px;top:104.6px;font-size:12.5px;letter-spacing:-0.18px;color:#4a4a4a">URI 10 0 1 1M</span>
<span class="t" style="left:97.0px;top:104.6px;font-size:12.5px;letter-spacing:-1.39px;color:#4a4a4a">∅ ∅</span>

<svg class="abs" style="left:38px;top:32px" width="17" height="17" viewBox="0 0 18 18"><g fill="none" stroke="#262626" stroke-width="1.15" stroke-linecap="round"><path d="M1 8.200C2.800 4.700 5.600 3 9 3s6.200 1.700 8 5.200c-1.800 3.400-4.600 5.100-8 5.100S2.800 11.600 1 8.200Z"/><circle cx="9" cy="8.200" r="3"/><path d="M3 14.300L15.300 2.300"/></g></svg>
<svg class="abs" style="left:193px;top:56px" width="17" height="17" viewBox="0 0 18 18"><g fill="none" stroke="#262626" stroke-width="1.15" stroke-linecap="round"><path d="M1 8.200C2.800 4.700 5.600 3 9 3s6.200 1.700 8 5.200c-1.800 3.400-4.600 5.100-8 5.100S2.800 11.600 1 8.200Z"/><circle cx="9" cy="8.200" r="3"/><path d="M3 14.300L15.300 2.300"/></g></svg>
<svg class="abs" style="left:99px;top:80px" width="17" height="17" viewBox="0 0 18 18"><g fill="none" stroke="#262626" stroke-width="1.15" stroke-linecap="round"><path d="M1 8.200C2.800 4.700 5.600 3 9 3s6.200 1.700 8 5.200c-1.800 3.400-4.600 5.100-8 5.100S2.800 11.600 1 8.200Z"/><circle cx="9" cy="8.200" r="3"/><path d="M3 14.300L15.300 2.300"/></g></svg>

<!-- collapse button -->
<div class="abs" style="left:9.500px;top:247px;width:28px;height:20.500px;border:1px solid #dcdcdc;border-radius:3px;background:#fff"></div>
<svg class="abs" style="left:15px;top:250px" width="18" height="14" viewBox="0 0 18 14"><path d="M4.300 9.500L8.400 5.600l4.100 3.900" fill="none" stroke="#1a1a1a" stroke-width="1.400"/></svg>

<!-- red annotation box -->
<div class="abs" style="left:1.200px;top:113.800px;width:280px;height:140.200px;border:4.800px solid #ec0509;border-radius:20px"></div>

<div class="ico" style="top:127.700px;background:#d9a013"></div>
<svg class="abs" style="left:9.500px;top:127.700px" width="18" height="18" viewBox="0 0 18 18"><path d="M6.300 5.200h5.400l1.100 3.200H5.200zM3.600 9.400h4.700l1 3.300H2.600zM9.700 9.400h4.700l1 3.300H8.700z" fill="#fff"/></svg>
<span class="t" style="left:32.3px;top:128.7px;font-size:12.5px;letter-spacing:-0.45px;color:#3d3d3d">GOLD · TVC</span>
<span class="t" style="left:108.4px;top:128.7px;font-size:12.5px;letter-spacing:0.05px;color:#2f7df6">1,428.490</span>
<span class="t" style="left:171.0px;top:128.7px;font-size:12.5px;letter-spacing:-0.12px;color:#2f7df6">−1.000 (−0.07%)</span>
<div class="ico" style="top:151.700px;background:#96151d;color:#fff;font-weight:bold;font-size:13px;line-height:18px;text-align:center">V</div>
<span class="t" style="left:32.3px;top:152.7px;font-size:12.5px;letter-spacing:-0.44px;color:#3d3d3d">VNQ · NYSE Arca</span>
<span class="t" style="left:136.0px;top:152.7px;font-size:12.5px;letter-spacing:0.02px;color:#ff9800">58.56</span>
<span class="t" style="left:174.2px;top:152.7px;font-size:12.5px;letter-spacing:-0.14px;color:#ff9800">+1.55 (+2.72%)</span>
<div class="ico" style="top:175.700px;background:#1e9fd8;color:#111;font-weight:bold;font-size:15px;line-height:18px;text-align:center">i</div>
<span class="t" style="left:32.3px;top:176.7px;font-size:12.5px;letter-spacing:-0.54px;color:#3d3d3d">TLT · NASDAQ</span>
<span class="t" style="left:120.3px;top:176.7px;font-size:12.5px;letter-spacing:-0.12px;color:#26c6da">92.19</span>
<span class="t" style="left:158.0px;top:176.7px;font-size:12.5px;letter-spacing:-0.14px;color:#26c6da">+0.02 (+0.02%)</span>
<div class="ico" style="top:199.700px;background:#1e9fd8;color:#111;font-weight:bold;font-size:15px;line-height:18px;text-align:center">i</div>
<span class="t" style="left:32.3px;top:200.7px;font-size:12.5px;letter-spacing:-0.39px;color:#3d3d3d">LQD · NYSE Arca</span>
<span class="t" style="left:135.1px;top:200.7px;font-size:12.5px;letter-spacing:-0.14px;color:#801922">108.28</span>
<span class="t" style="left:179.8px;top:200.7px;font-size:12.5px;letter-spacing:-0.18px;color:#801922">−0.39 (−0.36%)</span>
<div class="ico" style="top:223.700px;background:#16181d"></div>
<svg class="abs" style="left:9.500px;top:223.700px" width="18" height="18" viewBox="0 0 18 18"><path d="M9 3.500c2.200 2.800 3.700 4.900 3.700 7a3.700 3.700 0 0 1-7.400 0c0-2.100 1.500-4.200 3.700-7z" fill="#fff"/></svg>
<span class="t" style="left:32.3px;top:224.7px;font-size:12.5px;letter-spacing:-0.45px;color:#3d3d3d">USOIL · TVC</span>
<span class="t" style="left:109.6px;top:224.7px;font-size:12.5px;letter-spacing:-0.22px;color:#c2185b">108.38</span>
<span class="t" style="left:153.8px;top:224.7px;font-size:12.5px;letter-spacing:-0.14px;color:#c2185b">+2.81 (+2.66%)</span>

<!-- TV logo -->
<svg class="abs" style="left:0;top:840px" width="60" height="36" viewBox="0 840 60 36"><g fill="#111" stroke="#fff" stroke-width="1.600" paint-order="stroke" stroke-linejoin="round"><path d="M12.900 851.200H24.900V865.900H19.100V856.900H12.900Z"/><circle cx="29.900" cy="854.100" r="2.850"/><path d="M36.100 851.200H42.700L37 865.900H30.100Z"/></g></svg>

<!-- zoom buttons -->
<div class="btn" style="left:754px"><svg width="24" height="24"><path d="M7 12.500h10" stroke="#222" stroke-width="1.500" fill="none"/></svg></div>
<div class="btn" style="left:786px"><svg width="24" height="24"><path d="M7 12.500h10M12 7.500v10" stroke="#222" stroke-width="1.500" fill="none"/></svg></div>
<div class="btn" style="left:826px"><svg width="24" height="24"><path d="M14 7.500l-4.500 5 4.500 5" stroke="#222" stroke-width="1.500" fill="none"/></svg></div>
<div class="btn" style="left:858px"><svg width="24" height="24"><path d="M10 7.500l4.500 5-4.500 5" stroke="#222" stroke-width="1.500" fill="none"/></svg></div>
<div class="btn" style="left:898px"><svg width="24" height="24"><path d="M8.200 10.200A4.800 4.800 0 1 0 12 7.800" stroke="#222" stroke-width="1.500" fill="none"/><path d="M12.600 4.600L9.400 7.900l3.500 2.300z" fill="#222"/></svg></div>

<!-- axes -->
<div class="paxis"></div>
<div class="taxis"></div>
<div class="lborder"></div>
<div class="sep"></div>
<div class="redge"></div>
<span class="t" style="left:1707.6px;top:129.9px;font-size:12px;letter-spacing:-0.09px;color:#3a3a3a">2,450.00</span>
<span class="t" style="left:1707.6px;top:194.4px;font-size:12px;letter-spacing:-0.09px;color:#3a3a3a">1,550.00</span>
<span class="t" style="left:1707.6px;top:224.8px;font-size:12px;letter-spacing:-0.09px;color:#3a3a3a">1,250.00</span>
<span class="t" style="left:1707.6px;top:256.2px;font-size:12px;letter-spacing:-0.09px;color:#3a3a3a">1,000.00</span>
<span class="t" style="left:1707.6px;top:287.6px;font-size:12px;letter-spacing:-0.28px;color:#3a3a3a">800.00</span>
<span class="t" style="left:1707.6px;top:319.1px;font-size:12px;letter-spacing:-0.28px;color:#3a3a3a">640.00</span>
<span class="t" style="left:1707.6px;top:349.7px;font-size:12px;letter-spacing:-0.28px;color:#3a3a3a">515.00</span>
<span class="t" style="left:1707.6px;top:380.2px;font-size:12px;letter-spacing:-0.28px;color:#3a3a3a">415.00</span>
<span class="t" style="left:1707.6px;top:410.3px;font-size:12px;letter-spacing:-0.28px;color:#3a3a3a">335.00</span>
<span class="t" style="left:1707.6px;top:448.8px;font-size:12px;letter-spacing:-0.28px;color:#3a3a3a">255.00</span>
<span class="t" style="left:1707.6px;top:479.5px;font-size:12px;letter-spacing:-0.28px;color:#3a3a3a">205.00</span>
<span class="t" style="left:1707.6px;top:510.1px;font-size:12px;letter-spacing:-0.28px;color:#3a3a3a">165.00</span>
<span class="t" style="left:1707.6px;top:549.3px;font-size:12px;letter-spacing:-0.28px;color:#3a3a3a">125.00</span>
<span class="t" style="left:1707.6px;top:644.4px;font-size:12px;letter-spacing:-0.27px;color:#3a3a3a">63.50</span>
<span class="t" style="left:1707.6px;top:679.3px;font-size:12px;letter-spacing:-0.27px;color:#3a3a3a">49.50</span>
<span class="t" style="left:1707.6px;top:711.3px;font-size:12px;letter-spacing:-0.27px;color:#3a3a3a">39.50</span>
<span class="t" style="left:1707.6px;top:743.2px;font-size:12px;letter-spacing:-0.27px;color:#3a3a3a">31.50</span>
<span class="t" style="left:1707.6px;top:810.5px;font-size:12px;letter-spacing:-0.27px;color:#3a3a3a">19.50</span>
<span class="t" style="left:1707.6px;top:843.3px;font-size:12px;letter-spacing:-0.27px;color:#3a3a3a">15.50</span>
<span class="t" style="left:30.7px;top:886.0px;font-size:12px;letter-spacing:-0.10px;color:#333333">2001</span>
<span class="t" style="left:106.4px;top:886.0px;font-size:12px;letter-spacing:-0.10px;color:#333333">2002</span>
<span class="t" style="left:181.2px;top:886.0px;font-size:12px;letter-spacing:-0.10px;color:#333333">2003</span>
<span class="t" style="left:255.3px;top:886.0px;font-size:12px;letter-spacing:-0.10px;color:#333333">2004</span>
<span class="t" style="left:329.6px;top:886.0px;font-size:12px;letter-spacing:-0.10px;color:#333333">2005</span>
<span class="t" style="left:403.7px;top:886.0px;font-size:12px;letter-spacing:-0.10px;color:#333333">2006</span>
<span class="t" style="left:477.9px;top:886.0px;font-size:12px;letter-spacing:-0.10px;color:#333333">2007</span>
<span class="t" style="left:553.1px;top:886.0px;font-size:12px;letter-spacing:-0.10px;color:#333333">2008</span>
<span class="t" style="left:627.4px;top:886.0px;font-size:12px;letter-spacing:-0.10px;color:#333333">2009</span>
<span class="t" style="left:701.5px;top:886.0px;font-size:12px;letter-spacing:-0.10px;color:#333333">2010</span>
<span class="t" style="left:775.2px;top:886.0px;font-size:12px;letter-spacing:0.12px;color:#333333">2011</span>
<span class="t" style="left:850.2px;top:886.0px;font-size:12px;letter-spacing:-0.10px;color:#333333">2012</span>
<span class="t" style="left:925.1px;top:886.0px;font-size:12px;letter-spacing:-0.10px;color:#333333">2013</span>
<span class="t" style="left:999.5px;top:886.0px;font-size:12px;letter-spacing:-0.10px;color:#333333">2014</span>
<span class="t" style="left:1074.1px;top:886.0px;font-size:12px;letter-spacing:-0.10px;color:#333333">2015</span>
<span class="t" style="left:1148.2px;top:886.0px;font-size:12px;letter-spacing:-0.10px;color:#333333">2016</span>
<span class="t" style="left:1222.5px;top:886.0px;font-size:12px;letter-spacing:-0.10px;color:#333333">2017</span>
<span class="t" style="left:1296.4px;top:886.0px;font-size:12px;letter-spacing:-0.10px;color:#333333">2018</span>
<span class="t" style="left:1372.1px;top:886.0px;font-size:12px;letter-spacing:-0.10px;color:#333333">2019</span>
<span class="t" style="left:1446.4px;top:886.0px;font-size:12px;letter-spacing:-0.10px;color:#333333">2020</span>
<span class="t" style="left:1520.5px;top:886.0px;font-size:12px;letter-spacing:-0.10px;color:#333333">2021</span>
<span class="t" style="left:1594.5px;top:886.0px;font-size:12px;letter-spacing:-0.10px;color:#333333">2022</span>
<span class="t" style="left:1668.6px;top:886.0px;font-size:12px;letter-spacing:-0.10px;color:#333333">2023</span>

<!-- USD -->
<div class="abs" style="left:1702.300px;top:4.300px;width:57px;height:25.400px;border:1px solid #ebebed;border-radius:4px;background:#fff"></div>
<div class="abs" style="left:1714.500px;top:34.500px;width:1.500px;height:1px;background:#9a9a9a;transform:rotate(-40deg)"></div>
<span class="t" style="left:1706.5px;top:8.8px;font-size:12px;letter-spacing:-1.78px;color:#0b1030">USD</span>
<svg class="abs" style="left:1748px;top:12.800px" width="10" height="10" viewBox="0 0 10 10"><path d="M2 3.400l2.500 2.500L7 3.400" fill="none" stroke="#1a1a1a" stroke-width="1.400"/></svg>

<!-- price tags -->
<div class="tag" style="top:57px;width:59px;border-color:#000"></div>
<span class="t" style="left:1707.6px;top:57.6px;font-size:12px;letter-spacing:-0.13px;color:#000000">4,109.32</span>
<span class="t" style="left:1707.6px;top:88.5px;font-size:12px;letter-spacing:-0.09px;color:#3a3a3a">3,250.00</span>
<div class="tag" style="top:82px;width:59px;border-color:#f23645;background:#f23645"></div>
<span class="t" style="left:1707.0px;top:82.8px;font-size:12px;font-weight:bold;letter-spacing:-0.01px;color:#ffffff">3,426.37</span>
<div class="tag" style="top:161px;width:59px;border-color:#2f7df6"></div>
<span class="t" style="left:1707.6px;top:161.6px;font-size:12px;letter-spacing:-0.13px;color:#2f7df6">1,968.53</span>
<div class="tag" style="top:567px;width:48px;border-color:#801922"></div>
<span class="t" style="left:1708.0px;top:567.5px;font-size:12px;letter-spacing:-0.48px;color:#801922">109.61</span>
<div class="tag" style="top:584.500px;width:48px;border-color:#26c6da"></div>
<span class="t" style="left:1708.0px;top:585.0px;font-size:12px;letter-spacing:-0.48px;color:#26c6da">106.37</span>
<div class="tag" style="top:606px;width:42px;border-color:#ff9800"></div>
<span class="t" style="left:1708.0px;top:606.5px;font-size:12px;letter-spacing:-0.35px;color:#ff9800">83.04</span>
<div class="tag" style="top:623.500px;width:42px;border-color:#c2185b"></div>
<span class="t" style="left:1708.0px;top:624.0px;font-size:12px;letter-spacing:-0.35px;color:#c2185b">75.65</span>

<!-- crosshair labels -->
<div class="abs" style="left:1677px;top:782px;width:65px;height:20.500px;background:#0f0f0f;border-radius:3px"></div>
<div class="abs" style="left:1698px;top:782px;width:1px;height:20.500px;background:#3c3c3c"></div>
<svg class="abs" style="left:1678px;top:783px" width="19" height="19" viewBox="0 0 19 19"><circle cx="9.500" cy="9.400" r="7.600" fill="none" stroke="#fff" stroke-width="1"/><path d="M6 9.400h7M9.500 5.900v7" stroke="#fff" stroke-width="1.200"/></svg>
<span class="t" style="left:1707.6px;top:784.7px;font-size:12px;font-weight:bold;letter-spacing:-0.27px;color:#ffffff">23.50</span>
<div class="abs" style="left:758px;top:880px;width:97px;height:23.500px;background:#0f0f0f;border-radius:0 0 3px 3px"></div>
<span class="t" style="left:766.0px;top:886.7px;font-size:12px;font-weight:bold;letter-spacing:-0.39px;color:#ffffff">Mon 28 Mar '11</span>

<!-- A button -->
<div class="abs" style="left:1723px;top:886.500px;width:17px;height:17px;border-radius:50%;background:#f7f7f8;color:#333;font-size:10px;line-height:18px;text-align:center">A</div>

<!-- bottom toolbar -->
<span class="t" style="left:-2.5px;top:920.6px;font-size:13.5px;letter-spacing:-0.75px;color:#1a1a1a">D</span>
<span class="t" style="left:19.5px;top:920.6px;font-size:13.5px;letter-spacing:-0.88px;color:#1a1a1a">1M</span>
<span class="t" style="left:48.4px;top:920.6px;font-size:13.5px;letter-spacing:-0.88px;color:#1a1a1a">3M</span>
<span class="t" style="left:77.3px;top:920.6px;font-size:13.5px;letter-spacing:-0.53px;color:#1a1a1a">6M</span>
<span class="t" style="left:107.0px;top:920.6px;font-size:13.5px;letter-spacing:-1.07px;color:#1a1a1a">YTD</span>
<span class="t" style="left:144.0px;top:920.6px;font-size:13.5px;letter-spacing:-0.86px;color:#1a1a1a">1Y</span>
<span class="t" style="left:171.0px;top:920.6px;font-size:13.5px;letter-spacing:-1.26px;color:#1a1a1a">5Y</span>
<span class="t" style="left:198.0px;top:920.6px;font-size:13.5px;letter-spacing:0.33px;color:#1a1a1a">All</span>
<div class="abs" style="left:225px;top:916px;width:1px;height:24px;background:#e6e8ee"></div>
<svg class="abs" style="left:238px;top:917px" width="22" height="20" viewBox="0 0 22 20"><g fill="none" stroke="#222" stroke-width="1.300"><path d="M2.500 8V5.500a2 2 0 0 1 2-2h13a2 2 0 0 1 2 2v10.500a2 2 0 0 1-2 2H11"/><path d="M2.500 7h17M7 1.500v3.500M15 1.500v3.500"/><path d="M1.500 14.500h7M6 11.500l3 3-3 3"/></g></svg>
<span class="t" style="left:1611.7px;top:920.6px;font-size:13.5px;letter-spacing:-0.08px;color:#1a1a1a">11:25:26 UTC+2</span>
<div class="abs" style="left:1719px;top:916px;width:1px;height:24px;background:#e6e8ee"></div>
<span class="t" style="left:1731.0px;top:920.6px;font-size:13.5px;letter-spacing:-1.04px;color:#1a1a1a">ADJ</span>
</body>
</html>
